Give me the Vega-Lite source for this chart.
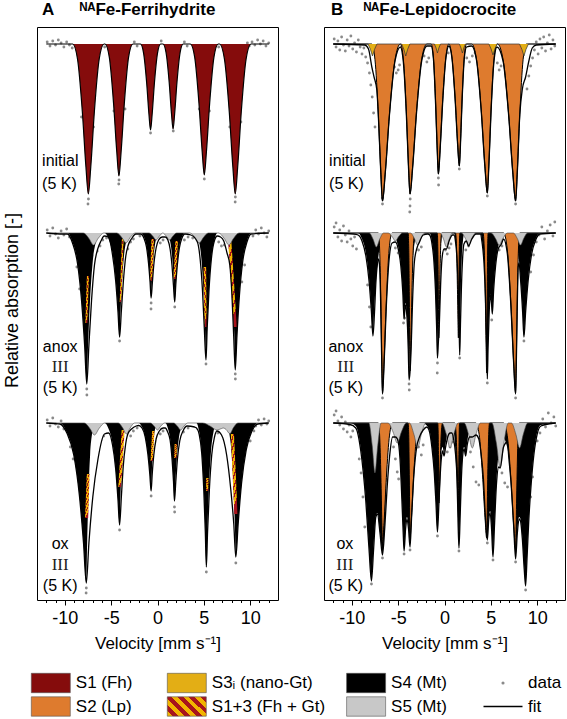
{
"$schema":"https://vega.github.io/schema/vega-lite/v6.json",
"padding":{"left":2,"top":0,"right":0,"bottom":0},
"background":"white",
"config":{"font":"Liberation Sans","view":{"stroke":"black","strokeWidth":1},"title":{"color":"black"}},
"datasets":{
"A":[
{"k":"S1","s":1,"x":-12,"y":-17,"b":-17},{"k":"S1","s":1,"x":-9.15,"y":-17,"b":-17},{"k":"S1","s":1,"x":-8.63,"y":-32,"b":-17},{"k":"S1","s":1,"x":-8.11,"y":-84.5,"b":-17},{"k":"S1","s":1,"x":-7.72,"y":-140,"b":-17},{"k":"S1","s":1,"x":-7.46,"y":-167,"b":-17},{"k":"S1","s":1,"x":-7.2,"y":-140,"b":-17},{"k":"S1","s":1,"x":-6.81,"y":-84.5,"b":-17},{"k":"S1","s":1,"x":-6.29,"y":-32,"b":-17},{"k":"S1","s":1,"x":-5.77,"y":-17,"b":-17},
{"k":"S1","s":1,"x":-5.67,"y":-17,"b":-17},{"k":"S1","s":1,"x":-5.2,"y":-30.2,"b":-17},{"k":"S1","s":1,"x":-4.74,"y":-76.4,"b":-17},{"k":"S1","s":1,"x":-4.39,"y":-125.2,"b":-17},{"k":"S1","s":1,"x":-4.16,"y":-149,"b":-17},{"k":"S1","s":1,"x":-3.93,"y":-125.2,"b":-17},{"k":"S1","s":1,"x":-3.58,"y":-76.4,"b":-17},{"k":"S1","s":1,"x":-3.12,"y":-30.2,"b":-17},{"k":"S1","s":1,"x":-2.65,"y":-17,"b":-17},
{"k":"S1","s":1,"x":-1.84,"y":-17,"b":-17},{"k":"S1","s":1,"x":-1.51,"y":-25.6,"b":-17},{"k":"S1","s":1,"x":-1.17,"y":-55.7,"b":-17},{"k":"S1","s":1,"x":-0.92,"y":-87.5,"b":-17},{"k":"S1","s":1,"x":-0.75,"y":-103,"b":-17},{"k":"S1","s":1,"x":-0.58,"y":-87.5,"b":-17},{"k":"S1","s":1,"x":-0.33,"y":-55.7,"b":-17},{"k":"S1","s":1,"x":0.01,"y":-25.6,"b":-17},{"k":"S1","s":1,"x":0.34,"y":-17,"b":-17},
{"k":"S1","s":1,"x":0.59,"y":-17,"b":-17},{"k":"S1","s":1,"x":0.92,"y":-25.5,"b":-17},{"k":"S1","s":1,"x":1.26,"y":-55.3,"b":-17},{"k":"S1","s":1,"x":1.51,"y":-86.7,"b":-17},{"k":"S1","s":1,"x":1.68,"y":-102,"b":-17},{"k":"S1","s":1,"x":1.85,"y":-86.7,"b":-17},{"k":"S1","s":1,"x":2.1,"y":-55.3,"b":-17},{"k":"S1","s":1,"x":2.44,"y":-25.5,"b":-17},{"k":"S1","s":1,"x":2.77,"y":-17,"b":-17},
{"k":"S1","s":1,"x":3.54,"y":-17,"b":-17},{"k":"S1","s":1,"x":4.01,"y":-30.1,"b":-17},{"k":"S1","s":1,"x":4.47,"y":-76,"b":-17},{"k":"S1","s":1,"x":4.82,"y":-124.4,"b":-17},{"k":"S1","s":1,"x":5.05,"y":-148,"b":-17},{"k":"S1","s":1,"x":5.28,"y":-124.4,"b":-17},{"k":"S1","s":1,"x":5.63,"y":-76,"b":-17},{"k":"S1","s":1,"x":6.09,"y":-30.1,"b":-17},{"k":"S1","s":1,"x":6.56,"y":-17,"b":-17},
{"k":"S1","s":1,"x":6.7,"y":-17,"b":-17},{"k":"S1","s":1,"x":7.22,"y":-32,"b":-17},{"k":"S1","s":1,"x":7.74,"y":-84.5,"b":-17},{"k":"S1","s":1,"x":8.13,"y":-140,"b":-17},{"k":"S1","s":1,"x":8.39,"y":-167,"b":-17},{"k":"S1","s":1,"x":8.65,"y":-140,"b":-17},{"k":"S1","s":1,"x":9.04,"y":-84.5,"b":-17},{"k":"S1","s":1,"x":9.56,"y":-32,"b":-17},{"k":"S1","s":1,"x":10.08,"y":-17,"b":-17},{"k":"S1","s":1,"x":12,"y":-17,"b":-17},

{"k":"S4","s":2,"x":-12,"y":-206,"b":-206},
{"k":"S4","s":2,"x":-9.72,"y":-206,"b":-206},{"k":"S4","s":2,"x":-9.17,"y":-215,"b":-206},{"k":"S4","s":2,"x":-8.62,"y":-236,"b":-206},{"k":"S4","s":2,"x":-8.18,"y":-273.5,"b":-206},{"k":"S4","s":2,"x":-7.85,"y":-318.5,"b":-206},{"k":"S4","s":2,"x":-7.63,"y":-356,"b":-206},{"k":"S4","s":2,"x":-7.49,"y":-318.5,"b":-206},{"k":"S4","s":2,"x":-7.28,"y":-273.5,"b":-206},{"k":"S4","s":2,"x":-7.0,"y":-236,"b":-206},{"k":"S4","s":2,"x":-6.65,"y":-215,"b":-206},{"k":"S4","s":2,"x":-6.3,"y":-206,"b":-206},
{"k":"S4","s":2,"x":-5.69,"y":-206,"b":-206},{"k":"S4","s":2,"x":-5.27,"y":-212.2,"b":-206},{"k":"S4","s":2,"x":-4.85,"y":-226.6,"b":-206},{"k":"S4","s":2,"x":-4.51,"y":-252.4,"b":-206},{"k":"S4","s":2,"x":-4.26,"y":-283.3,"b":-206},{"k":"S4","s":2,"x":-4.09,"y":-309,"b":-206},{"k":"S4","s":2,"x":-3.98,"y":-283.3,"b":-206},{"k":"S4","s":2,"x":-3.81,"y":-252.4,"b":-206},{"k":"S4","s":2,"x":-3.59,"y":-226.6,"b":-206},{"k":"S4","s":2,"x":-3.31,"y":-212.2,"b":-206},{"k":"S4","s":2,"x":-3.03,"y":-206,"b":-206},
{"k":"S4","s":2,"x":-1.75,"y":-206,"b":-206},{"k":"S4","s":2,"x":-1.47,"y":-209.8,"b":-206},{"k":"S4","s":2,"x":-1.19,"y":-218.8,"b":-206},{"k":"S4","s":2,"x":-0.97,"y":-234.8,"b":-206},{"k":"S4","s":2,"x":-0.8,"y":-254,"b":-206},{"k":"S4","s":2,"x":-0.69,"y":-270,"b":-206},{"k":"S4","s":2,"x":-0.6,"y":-254,"b":-206},{"k":"S4","s":2,"x":-0.47,"y":-234.8,"b":-206},{"k":"S4","s":2,"x":-0.29,"y":-218.8,"b":-206},{"k":"S4","s":2,"x":-0.07,"y":-209.8,"b":-206},{"k":"S4","s":2,"x":0.15,"y":-206,"b":-206},
{"k":"S4","s":2,"x":1.02,"y":-206,"b":-206},{"k":"S4","s":2,"x":1.24,"y":-210.1,"b":-206},{"k":"S4","s":2,"x":1.46,"y":-219.6,"b":-206},{"k":"S4","s":2,"x":1.64,"y":-236.6,"b":-206},{"k":"S4","s":2,"x":1.77,"y":-257,"b":-206},{"k":"S4","s":2,"x":1.86,"y":-274,"b":-206},{"k":"S4","s":2,"x":1.97,"y":-257,"b":-206},{"k":"S4","s":2,"x":2.14,"y":-236.6,"b":-206},{"k":"S4","s":2,"x":2.36,"y":-219.6,"b":-206},{"k":"S4","s":2,"x":2.64,"y":-210.1,"b":-206},{"k":"S4","s":2,"x":2.92,"y":-206,"b":-206},
{"k":"S4","s":2,"x":4.17,"y":-206,"b":-206},{"k":"S4","s":2,"x":4.45,"y":-213.6,"b":-206},{"k":"S4","s":2,"x":4.73,"y":-231.2,"b":-206},{"k":"S4","s":2,"x":4.95,"y":-262.7,"b":-206},{"k":"S4","s":2,"x":5.12,"y":-300.5,"b":-206},{"k":"S4","s":2,"x":5.23,"y":-332,"b":-206},{"k":"S4","s":2,"x":5.36,"y":-300.5,"b":-206},{"k":"S4","s":2,"x":5.55,"y":-262.7,"b":-206},{"k":"S4","s":2,"x":5.81,"y":-231.2,"b":-206},{"k":"S4","s":2,"x":6.13,"y":-213.6,"b":-206},{"k":"S4","s":2,"x":6.45,"y":-206,"b":-206},
{"k":"S4","s":2,"x":7.4,"y":-206,"b":-206},{"k":"S4","s":2,"x":7.66,"y":-214.2,"b":-206},{"k":"S4","s":2,"x":7.92,"y":-233.2,"b":-206},{"k":"S4","s":2,"x":8.13,"y":-267.2,"b":-206},{"k":"S4","s":2,"x":8.29,"y":-308,"b":-206},{"k":"S4","s":2,"x":8.39,"y":-342,"b":-206},{"k":"S4","s":2,"x":8.57,"y":-308,"b":-206},{"k":"S4","s":2,"x":8.84,"y":-267.2,"b":-206},{"k":"S4","s":2,"x":9.2,"y":-233.2,"b":-206},{"k":"S4","s":2,"x":9.65,"y":-214.2,"b":-206},{"k":"S4","s":2,"x":10.1,"y":-206,"b":-206},
{"k":"S4","s":2,"x":12,"y":-206,"b":-206},

{"k":"S4","s":3,"x":-12,"y":-396,"b":-396},
{"k":"S4","s":3,"x":-10.53,"y":-396,"b":-396},{"k":"S4","s":3,"x":-9.78,"y":-405.6,"b":-396},{"k":"S4","s":3,"x":-9.03,"y":-428,"b":-396},{"k":"S4","s":3,"x":-8.43,"y":-468,"b":-396},{"k":"S4","s":3,"x":-7.98,"y":-516,"b":-396},{"k":"S4","s":3,"x":-7.68,"y":-556,"b":-396},{"k":"S4","s":3,"x":-7.59,"y":-516,"b":-396},{"k":"S4","s":3,"x":-7.45,"y":-468,"b":-396},{"k":"S4","s":3,"x":-7.27,"y":-428,"b":-396},{"k":"S4","s":3,"x":-7.04,"y":-405.6,"b":-396},{"k":"S4","s":3,"x":-6.81,"y":-396,"b":-396},
{"k":"S4","s":3,"x":-5.69,"y":-396,"b":-396},{"k":"S4","s":3,"x":-5.27,"y":-402.1,"b":-396},{"k":"S4","s":3,"x":-4.85,"y":-416.4,"b":-396},{"k":"S4","s":3,"x":-4.51,"y":-441.9,"b":-396},{"k":"S4","s":3,"x":-4.26,"y":-472.5,"b":-396},{"k":"S4","s":3,"x":-4.09,"y":-498,"b":-396},{"k":"S4","s":3,"x":-4.01,"y":-472.5,"b":-396},{"k":"S4","s":3,"x":-3.89,"y":-441.9,"b":-396},{"k":"S4","s":3,"x":-3.73,"y":-416.4,"b":-396},{"k":"S4","s":3,"x":-3.53,"y":-402.1,"b":-396},{"k":"S4","s":3,"x":-3.33,"y":-396,"b":-396},
{"k":"S4","s":3,"x":-2.02,"y":-396,"b":-396},{"k":"S4","s":3,"x":-1.67,"y":-400.1,"b":-396},{"k":"S4","s":3,"x":-1.32,"y":-409.6,"b":-396},{"k":"S4","s":3,"x":-1.04,"y":-426.6,"b":-396},{"k":"S4","s":3,"x":-0.83,"y":-447,"b":-396},{"k":"S4","s":3,"x":-0.69,"y":-464,"b":-396},{"k":"S4","s":3,"x":-0.62,"y":-447,"b":-396},{"k":"S4","s":3,"x":-0.52,"y":-426.6,"b":-396},{"k":"S4","s":3,"x":-0.38,"y":-409.6,"b":-396},{"k":"S4","s":3,"x":-0.21,"y":-400.1,"b":-396},{"k":"S4","s":3,"x":-0.04,"y":-396,"b":-396},
{"k":"S4","s":3,"x":0.84,"y":-396,"b":-396},{"k":"S4","s":3,"x":1.1,"y":-400.7,"b":-396},{"k":"S4","s":3,"x":1.36,"y":-411.6,"b":-396},{"k":"S4","s":3,"x":1.57,"y":-431.1,"b":-396},{"k":"S4","s":3,"x":1.73,"y":-454.5,"b":-396},{"k":"S4","s":3,"x":1.83,"y":-474,"b":-396},{"k":"S4","s":3,"x":1.93,"y":-454.5,"b":-396},{"k":"S4","s":3,"x":2.09,"y":-431.1,"b":-396},{"k":"S4","s":3,"x":2.3,"y":-411.6,"b":-396},{"k":"S4","s":3,"x":2.56,"y":-400.7,"b":-396},{"k":"S4","s":3,"x":2.82,"y":-396,"b":-396},
{"k":"S4","s":3,"x":4.21,"y":-396,"b":-396},{"k":"S4","s":3,"x":4.49,"y":-404.6,"b":-396},{"k":"S4","s":3,"x":4.77,"y":-424.8,"b":-396},{"k":"S4","s":3,"x":4.99,"y":-460.8,"b":-396},{"k":"S4","s":3,"x":5.16,"y":-504,"b":-396},{"k":"S4","s":3,"x":5.27,"y":-540,"b":-396},{"k":"S4","s":3,"x":5.38,"y":-504,"b":-396},{"k":"S4","s":3,"x":5.55,"y":-460.8,"b":-396},{"k":"S4","s":3,"x":5.77,"y":-424.8,"b":-396},{"k":"S4","s":3,"x":6.05,"y":-404.6,"b":-396},{"k":"S4","s":3,"x":6.33,"y":-396,"b":-396},
{"k":"S4","s":3,"x":7.42,"y":-396,"b":-396},{"k":"S4","s":3,"x":7.69,"y":-404,"b":-396},{"k":"S4","s":3,"x":7.96,"y":-422.8,"b":-396},{"k":"S4","s":3,"x":8.18,"y":-456.3,"b":-396},{"k":"S4","s":3,"x":8.34,"y":-496.5,"b":-396},{"k":"S4","s":3,"x":8.45,"y":-530,"b":-396},{"k":"S4","s":3,"x":8.7,"y":-496.5,"b":-396},{"k":"S4","s":3,"x":9.07,"y":-456.3,"b":-396},{"k":"S4","s":3,"x":9.57,"y":-422.8,"b":-396},{"k":"S4","s":3,"x":10.19,"y":-404,"b":-396},{"k":"S4","s":3,"x":10.81,"y":-396,"b":-396},
{"k":"S4","s":3,"x":12,"y":-396,"b":-396},

{"k":"H","s":"2a","y":-249,"x":-7.62,"x2":-7.4},{"k":"H","s":"2a","y":-272,"x":-7.7,"x2":-7.48},{"k":"H","s":"2a","y":-296,"x":-7.78,"x2":-7.57},
{"k":"H","s":"2b","y":-212,"x":-3.84,"x2":-3.66},{"k":"H","s":"2b","y":-243,"x":-3.96,"x2":-3.77},{"k":"H","s":"2b","y":-275,"x":-4.08,"x2":-3.9},
{"k":"H","s":"2c","y":-212,"x":-0.65,"x2":-0.38},{"k":"H","s":"2c","y":-254,"x":-0.82,"x2":-0.55},
{"k":"H","s":"2d","y":-214,"x":1.93,"x2":2.2},{"k":"H","s":"2d","y":-252,"x":1.72,"x2":2.0},
{"k":"H","s":"2e","y":-240,"x":4.98,"x2":5.25},{"k":"H","s":"2e","y":-300,"x":5.06,"x2":5.3},
{"k":"H","s":"2f","y":-212,"x":7.6,"x2":7.95},{"k":"H","s":"2f","y":-256,"x":7.92,"x2":8.26},{"k":"H","s":"2f","y":-300,"x":8.22,"x2":8.55},
{"k":"H","s":"3a","y":-447,"x":-7.63,"x2":-7.33},{"k":"H","s":"3a","y":-469,"x":-7.72,"x2":-7.4},{"k":"H","s":"3a","y":-491,"x":-7.82,"x2":-7.48},
{"k":"H","s":"3b","y":-403,"x":-3.87,"x2":-3.55},{"k":"H","s":"3b","y":-432,"x":-4.05,"x2":-3.73},{"k":"H","s":"3b","y":-460,"x":-4.23,"x2":-3.92},
{"k":"H","s":"3c","y":-404,"x":-0.58,"x2":-0.33},{"k":"H","s":"3c","y":-434,"x":-0.75,"x2":-0.5},
{"k":"H","s":"3d","y":-417,"x":1.85,"x2":2.1},{"k":"H","s":"3d","y":-431,"x":1.8,"x2":2.05},
{"k":"H","s":"3e","y":-451,"x":5.25,"x2":5.5},{"k":"H","s":"3e","y":-464,"x":5.25,"x2":5.48},
{"k":"H","s":"3f","y":-407,"x":7.91,"x2":8.25},{"k":"H","s":"3f","y":-447,"x":8.1,"x2":8.45},{"k":"H","s":"3f","y":-487,"x":8.28,"x2":8.62},

{"k":"S5","s":2,"x":-12,"y":-206,"b":-206},{"k":"S5","s":2,"x":-8.0,"y":-206,"b":-206},{"k":"S5","s":2,"x":-7.4,"y":-211.4,"b":-206},{"k":"S5","s":2,"x":-6.9,"y":-218,"b":-206},{"k":"S5","s":2,"x":-6.4,"y":-211.4,"b":-206},{"k":"S5","s":2,"x":-5.8,"y":-206,"b":-206},{"k":"S5","s":2,"x":-4.39,"y":-206,"b":-206},{"k":"S5","s":2,"x":-3.85,"y":-210.5,"b":-206},{"k":"S5","s":2,"x":-3.4,"y":-216,"b":-206},{"k":"S5","s":2,"x":-2.95,"y":-210.5,"b":-206},{"k":"S5","s":2,"x":-2.41,"y":-206,"b":-206},{"k":"S5","s":2,"x":-0.92,"y":-206,"b":-206},{"k":"S5","s":2,"x":-0.5,"y":-209.2,"b":-206},{"k":"S5","s":2,"x":-0.15,"y":-213,"b":-206},{"k":"S5","s":2,"x":0.2,"y":-209.2,"b":-206},{"k":"S5","s":2,"x":0.57,"y":-206,"b":-206},{"k":"S5","s":2,"x":0.95,"y":-209.2,"b":-206},{"k":"S5","s":2,"x":1.3,"y":-213,"b":-206},{"k":"S5","s":2,"x":1.65,"y":-209.2,"b":-206},{"k":"S5","s":2,"x":2.07,"y":-206,"b":-206},{"k":"S5","s":2,"x":3.51,"y":-206,"b":-206},{"k":"S5","s":2,"x":4.05,"y":-210.5,"b":-206},{"k":"S5","s":2,"x":4.5,"y":-216,"b":-206},{"k":"S5","s":2,"x":4.95,"y":-210.5,"b":-206},{"k":"S5","s":2,"x":5.49,"y":-206,"b":-206},{"k":"S5","s":2,"x":6.6,"y":-206,"b":-206},{"k":"S5","s":2,"x":7.2,"y":-211.4,"b":-206},{"k":"S5","s":2,"x":7.7,"y":-218,"b":-206},{"k":"S5","s":2,"x":8.2,"y":-211.4,"b":-206},{"k":"S5","s":2,"x":8.8,"y":-206,"b":-206},{"k":"S5","s":2,"x":12,"y":-206,"b":-206},

{"k":"S5","s":3,"x":-12,"y":-396,"b":-396},{"k":"S5","s":3,"x":-7.9,"y":-396,"b":-396},{"k":"S5","s":3,"x":-7.3,"y":-401.4,"b":-396},{"k":"S5","s":3,"x":-6.8,"y":-408,"b":-396},{"k":"S5","s":3,"x":-6.3,"y":-401.4,"b":-396},{"k":"S5","s":3,"x":-5.7,"y":-396,"b":-396},{"k":"S5","s":3,"x":-4.23,"y":-396,"b":-396},{"k":"S5","s":3,"x":-3.75,"y":-401,"b":-396},{"k":"S5","s":3,"x":-3.35,"y":-407,"b":-396},{"k":"S5","s":3,"x":-2.95,"y":-401,"b":-396},{"k":"S5","s":3,"x":-2.47,"y":-396,"b":-396},{"k":"S5","s":3,"x":-0.77,"y":-396,"b":-396},{"k":"S5","s":3,"x":-0.35,"y":-399.2,"b":-396},{"k":"S5","s":3,"x":0,"y":-403,"b":-396},{"k":"S5","s":3,"x":0.35,"y":-399.2,"b":-396},{"k":"S5","s":3,"x":0.77,"y":-396,"b":-396},{"k":"S5","s":3,"x":1.73,"y":-396,"b":-396},{"k":"S5","s":3,"x":2.15,"y":-399.2,"b":-396},{"k":"S5","s":3,"x":2.5,"y":-403,"b":-396},{"k":"S5","s":3,"x":2.85,"y":-399.2,"b":-396},{"k":"S5","s":3,"x":3.27,"y":-396,"b":-396},{"k":"S5","s":3,"x":4.86,"y":-396,"b":-396},{"k":"S5","s":3,"x":5.7,"y":-399.2,"b":-396},{"k":"S5","s":3,"x":6.4,"y":-403,"b":-396},{"k":"S5","s":3,"x":6.92,"y":-401.5,"b":-396},{"k":"S5","s":3,"x":7.1,"y":-401,"b":-396},{"k":"S5","s":3,"x":7.4,"y":-402.5,"b":-396},{"k":"S5","s":3,"x":7.8,"y":-406.7,"b":-396},{"k":"S5","s":3,"x":8.2,"y":-400.5,"b":-396},{"k":"S5","s":3,"x":8.68,"y":-396,"b":-396},{"k":"S5","s":3,"x":12,"y":-396,"b":-396},

{"k":"fit","s":2,"x":-12,"y":-206,"b":-206},{"k":"fit","s":2,"x":-10.2,"y":-207,"b":-206},{"k":"fit","s":2,"x":-9.72,"y":-207,"b":-206},{"k":"fit","s":2,"x":-9.17,"y":-216,"b":-206},{"k":"fit","s":2,"x":-8.62,"y":-237,"b":-206},{"k":"fit","s":2,"x":-8.18,"y":-275,"b":-206},{"k":"fit","s":2,"x":-7.85,"y":-320,"b":-206},{"k":"fit","s":2,"x":-7.63,"y":-357,"b":-206},{"k":"fit","s":2,"x":-7.4,"y":-318,"b":-206},{"k":"fit","s":2,"x":-7.12,"y":-274,"b":-206},{"k":"fit","s":2,"x":-6.8,"y":-238,"b":-206},{"k":"fit","s":2,"x":-6.45,"y":-222,"b":-206},{"k":"fit","s":2,"x":-6.1,"y":-214,"b":-206},{"k":"fit","s":2,"x":-5.75,"y":-209,"b":-206},{"k":"fit","s":2,"x":-5.3,"y":-210,"b":-206},{"k":"fit","s":2,"x":-4.85,"y":-228,"b":-206},{"k":"fit","s":2,"x":-4.51,"y":-254,"b":-206},{"k":"fit","s":2,"x":-4.26,"y":-285,"b":-206},{"k":"fit","s":2,"x":-4.09,"y":-310,"b":-206},{"k":"fit","s":2,"x":-3.9,"y":-284,"b":-206},{"k":"fit","s":2,"x":-3.68,"y":-254,"b":-206},{"k":"fit","s":2,"x":-3.42,"y":-229,"b":-206},{"k":"fit","s":2,"x":-3.15,"y":-218,"b":-206},{"k":"fit","s":2,"x":-2.75,"y":-211,"b":-206},{"k":"fit","s":2,"x":-2.35,"y":-207,"b":-206},{"k":"fit","s":2,"x":-1.8,"y":-207,"b":-206},{"k":"fit","s":2,"x":-1.47,"y":-211,"b":-206},{"k":"fit","s":2,"x":-1.19,"y":-220,"b":-206},{"k":"fit","s":2,"x":-0.97,"y":-236,"b":-206},{"k":"fit","s":2,"x":-0.8,"y":-255,"b":-206},{"k":"fit","s":2,"x":-0.69,"y":-271,"b":-206},{"k":"fit","s":2,"x":-0.55,"y":-255,"b":-206},{"k":"fit","s":2,"x":-0.38,"y":-236,"b":-206},{"k":"fit","s":2,"x":-0.15,"y":-221,"b":-206},{"k":"fit","s":2,"x":0.12,"y":-213,"b":-206},{"k":"fit","s":2,"x":0.5,"y":-210,"b":-206},{"k":"fit","s":2,"x":0.85,"y":-210,"b":-206},{"k":"fit","s":2,"x":1.12,"y":-213,"b":-206},{"k":"fit","s":2,"x":1.36,"y":-222,"b":-206},{"k":"fit","s":2,"x":1.56,"y":-238,"b":-206},{"k":"fit","s":2,"x":1.72,"y":-258,"b":-206},{"k":"fit","s":2,"x":1.86,"y":-275,"b":-206},{"k":"fit","s":2,"x":1.97,"y":-258,"b":-206},{"k":"fit","s":2,"x":2.14,"y":-238,"b":-206},{"k":"fit","s":2,"x":2.36,"y":-221,"b":-206},{"k":"fit","s":2,"x":2.64,"y":-211,"b":-206},{"k":"fit","s":2,"x":2.95,"y":-207,"b":-206},{"k":"fit","s":2,"x":3.6,"y":-208,"b":-206},{"k":"fit","s":2,"x":4.3,"y":-215,"b":-206},{"k":"fit","s":2,"x":4.6,"y":-232,"b":-206},{"k":"fit","s":2,"x":4.85,"y":-263,"b":-206},{"k":"fit","s":2,"x":5.05,"y":-301,"b":-206},{"k":"fit","s":2,"x":5.23,"y":-333,"b":-206},{"k":"fit","s":2,"x":5.36,"y":-301,"b":-206},{"k":"fit","s":2,"x":5.55,"y":-264,"b":-206},{"k":"fit","s":2,"x":5.81,"y":-232,"b":-206},{"k":"fit","s":2,"x":6.13,"y":-214,"b":-206},{"k":"fit","s":2,"x":6.45,"y":-209,"b":-206},{"k":"fit","s":2,"x":6.8,"y":-210,"b":-206},{"k":"fit","s":2,"x":7.15,"y":-214,"b":-206},{"k":"fit","s":2,"x":7.5,"y":-226,"b":-206},{"k":"fit","s":2,"x":7.8,"y":-238,"b":-206},{"k":"fit","s":2,"x":8.03,"y":-268,"b":-206},{"k":"fit","s":2,"x":8.22,"y":-309,"b":-206},{"k":"fit","s":2,"x":8.39,"y":-343,"b":-206},{"k":"fit","s":2,"x":8.57,"y":-309,"b":-206},{"k":"fit","s":2,"x":8.84,"y":-268,"b":-206},{"k":"fit","s":2,"x":9.2,"y":-234,"b":-206},{"k":"fit","s":2,"x":9.65,"y":-215,"b":-206},{"k":"fit","s":2,"x":10.1,"y":-207,"b":-206},{"k":"fit","s":2,"x":12,"y":-206,"b":-206},

{"k":"fit","s":3,"x":-12,"y":-396,"b":-396},{"k":"fit","s":3,"x":-11.2,"y":-396.5,"b":-396},{"k":"fit","s":3,"x":-10.53,"y":-397,"b":-396},{"k":"fit","s":3,"x":-9.78,"y":-406,"b":-396},{"k":"fit","s":3,"x":-9.03,"y":-428,"b":-396},{"k":"fit","s":3,"x":-8.43,"y":-468,"b":-396},{"k":"fit","s":3,"x":-7.98,"y":-516,"b":-396},{"k":"fit","s":3,"x":-7.68,"y":-556,"b":-396},{"k":"fit","s":3,"x":-7.4,"y":-516,"b":-396},{"k":"fit","s":3,"x":-6.98,"y":-470,"b":-396},{"k":"fit","s":3,"x":-6.42,"y":-432,"b":-396},{"k":"fit","s":3,"x":-5.72,"y":-407,"b":-396},{"k":"fit","s":3,"x":-5.27,"y":-406,"b":-396},{"k":"fit","s":3,"x":-4.85,"y":-418,"b":-396},{"k":"fit","s":3,"x":-4.51,"y":-442,"b":-396},{"k":"fit","s":3,"x":-4.26,"y":-473,"b":-396},{"k":"fit","s":3,"x":-4.09,"y":-498,"b":-396},{"k":"fit","s":3,"x":-3.9,"y":-470,"b":-396},{"k":"fit","s":3,"x":-3.7,"y":-440,"b":-396},{"k":"fit","s":3,"x":-3.45,"y":-418,"b":-396},{"k":"fit","s":3,"x":-3.2,"y":-407,"b":-396},{"k":"fit","s":3,"x":-2.8,"y":-402,"b":-396},{"k":"fit","s":3,"x":-2.3,"y":-399,"b":-396},{"k":"fit","s":3,"x":-2.02,"y":-398.5,"b":-396},{"k":"fit","s":3,"x":-1.67,"y":-401,"b":-396},{"k":"fit","s":3,"x":-1.32,"y":-410,"b":-396},{"k":"fit","s":3,"x":-1.04,"y":-427,"b":-396},{"k":"fit","s":3,"x":-0.83,"y":-447,"b":-396},{"k":"fit","s":3,"x":-0.69,"y":-464,"b":-396},{"k":"fit","s":3,"x":-0.57,"y":-447,"b":-396},{"k":"fit","s":3,"x":-0.4,"y":-428,"b":-396},{"k":"fit","s":3,"x":-0.15,"y":-412,"b":-396},{"k":"fit","s":3,"x":0.2,"y":-404,"b":-396},{"k":"fit","s":3,"x":0.6,"y":-401,"b":-396},{"k":"fit","s":3,"x":0.84,"y":-401,"b":-396},{"k":"fit","s":3,"x":1.1,"y":-405,"b":-396},{"k":"fit","s":3,"x":1.36,"y":-413,"b":-396},{"k":"fit","s":3,"x":1.57,"y":-432,"b":-396},{"k":"fit","s":3,"x":1.73,"y":-455,"b":-396},{"k":"fit","s":3,"x":1.83,"y":-474,"b":-396},{"k":"fit","s":3,"x":1.97,"y":-455,"b":-396},{"k":"fit","s":3,"x":2.15,"y":-432,"b":-396},{"k":"fit","s":3,"x":2.4,"y":-414,"b":-396},{"k":"fit","s":3,"x":2.75,"y":-404,"b":-396},{"k":"fit","s":3,"x":3.2,"y":-399,"b":-396},{"k":"fit","s":3,"x":4.0,"y":-400,"b":-396},{"k":"fit","s":3,"x":4.21,"y":-401,"b":-396},{"k":"fit","s":3,"x":4.49,"y":-407,"b":-396},{"k":"fit","s":3,"x":4.77,"y":-426,"b":-396},{"k":"fit","s":3,"x":4.99,"y":-462,"b":-396},{"k":"fit","s":3,"x":5.16,"y":-505,"b":-396},{"k":"fit","s":3,"x":5.27,"y":-540,"b":-396},{"k":"fit","s":3,"x":5.4,"y":-505,"b":-396},{"k":"fit","s":3,"x":5.6,"y":-462,"b":-396},{"k":"fit","s":3,"x":5.85,"y":-428,"b":-396},{"k":"fit","s":3,"x":6.15,"y":-410,"b":-396},{"k":"fit","s":3,"x":6.4,"y":-404,"b":-396},{"k":"fit","s":3,"x":6.91,"y":-408,"b":-396},{"k":"fit","s":3,"x":7.46,"y":-428,"b":-396},{"k":"fit","s":3,"x":7.9,"y":-462,"b":-396},{"k":"fit","s":3,"x":8.23,"y":-497,"b":-396},{"k":"fit","s":3,"x":8.45,"y":-530,"b":-396},{"k":"fit","s":3,"x":8.7,"y":-497,"b":-396},{"k":"fit","s":3,"x":9.07,"y":-456,"b":-396},{"k":"fit","s":3,"x":9.57,"y":-423,"b":-396},{"k":"fit","s":3,"x":10.19,"y":-404,"b":-396},{"k":"fit","s":3,"x":10.81,"y":-397,"b":-396},{"k":"fit","s":3,"x":12,"y":-396,"b":-396},

{"k":"pt","x":-11.9,"y":-15},{"k":"pt","x":-11.6,"y":-19},{"k":"pt","x":-11.3,"y":-14},{"k":"pt","x":-11.0,"y":-18},{"k":"pt","x":-10.7,"y":-13},{"k":"pt","x":-10.4,"y":-16},{"k":"pt","x":-10.1,"y":-20},{"k":"pt","x":-9.8,"y":-15},{"k":"pt","x":-9.5,"y":-18},{"k":"pt","x":-9.2,"y":-21},{"k":"pt","x":-5.7,"y":-20},{"k":"pt","x":-2.5,"y":-15},{"k":"pt","x":-2.2,"y":-19},{"k":"pt","x":0.4,"y":-14},{"k":"pt","x":2.9,"y":-15},{"k":"pt","x":3.2,"y":-19},{"k":"pt","x":6.6,"y":-20},{"k":"pt","x":9.7,"y":-16},{"k":"pt","x":9.9,"y":-19},{"k":"pt","x":10.2,"y":-15},{"k":"pt","x":10.5,"y":-18},{"k":"pt","x":10.8,"y":-13},{"k":"pt","x":11.1,"y":-17},{"k":"pt","x":11.4,"y":-14},{"k":"pt","x":11.7,"y":-19},{"k":"pt","x":12.0,"y":-16},{"k":"pt","x":-7.45,"y":-172},{"k":"pt","x":-7.5,"y":-177},{"k":"pt","x":-4.15,"y":-153},{"k":"pt","x":-4.18,"y":-157},{"k":"pt","x":-0.75,"y":-106},{"k":"pt","x":1.7,"y":-104},{"k":"pt","x":5.05,"y":-152},{"k":"pt","x":8.4,"y":-170},{"k":"pt","x":8.38,"y":-175},{"k":"pt","x":-8.2,"y":-90},{"k":"pt","x":-6.9,"y":-100},{"k":"pt","x":-4.7,"y":-84},{"k":"pt","x":-3.5,"y":-82},{"k":"pt","x":4.5,"y":-82},{"k":"pt","x":5.6,"y":-84},{"k":"pt","x":7.8,"y":-100},{"k":"pt","x":9.0,"y":-95},
{"k":"pt","x":-11.9,"y":-203},{"k":"pt","x":-11.6,"y":-209},{"k":"pt","x":-11.3,"y":-201},{"k":"pt","x":-11.0,"y":-207},{"k":"pt","x":-10.7,"y":-211},{"k":"pt","x":-10.4,"y":-204},{"k":"pt","x":-10.1,"y":-208},{"k":"pt","x":-9.8,"y":-202},{"k":"pt","x":-9.5,"y":-210},{"k":"pt","x":10.3,"y":-209},{"k":"pt","x":10.6,"y":-203},{"k":"pt","x":10.9,"y":-207},{"k":"pt","x":11.2,"y":-201},{"k":"pt","x":11.5,"y":-206},{"k":"pt","x":11.8,"y":-210},{"k":"pt","x":12.0,"y":-204},{"k":"pt","x":-6.5,"y":-224},{"k":"pt","x":-6.2,"y":-219},{"k":"pt","x":-5.9,"y":-213},{"k":"pt","x":-5.5,"y":-211},{"k":"pt","x":-3.2,"y":-222},{"k":"pt","x":-2.9,"y":-215},{"k":"pt","x":-2.6,"y":-212},{"k":"pt","x":-1.9,"y":-209},{"k":"pt","x":0.3,"y":-216},{"k":"pt","x":0.6,"y":-213},{"k":"pt","x":2.9,"y":-213},{"k":"pt","x":3.3,"y":-210},{"k":"pt","x":3.8,"y":-211},{"k":"pt","x":6.6,"y":-215},{"k":"pt","x":6.9,"y":-219},{"k":"pt","x":7.2,"y":-218},{"k":"pt","x":-7.63,"y":-362},{"k":"pt","x":-7.62,"y":-368},{"k":"pt","x":-4.09,"y":-314},{"k":"pt","x":-0.69,"y":-276},{"k":"pt","x":-0.7,"y":-282},{"k":"pt","x":1.86,"y":-280},{"k":"pt","x":5.23,"y":-337},{"k":"pt","x":8.39,"y":-347},{"k":"pt","x":8.4,"y":-352},{"k":"pt","x":-8.7,"y":-240},{"k":"pt","x":-8.4,"y":-262},{"k":"pt","x":9.4,"y":-238},{"k":"pt","x":9.1,"y":-255},
{"k":"pt","x":-11.9,"y":-393},{"k":"pt","x":-11.6,"y":-399},{"k":"pt","x":-11.3,"y":-391},{"k":"pt","x":-11.0,"y":-397},{"k":"pt","x":-10.7,"y":-400},{"k":"pt","x":-10.4,"y":-394},{"k":"pt","x":-10.1,"y":-402},{"k":"pt","x":10.6,"y":-399},{"k":"pt","x":10.9,"y":-393},{"k":"pt","x":11.2,"y":-398},{"k":"pt","x":11.5,"y":-392},{"k":"pt","x":11.8,"y":-397},{"k":"pt","x":12.0,"y":-394},{"k":"pt","x":-6.4,"y":-412},{"k":"pt","x":-6.1,"y":-413},{"k":"pt","x":-5.8,"y":-409},{"k":"pt","x":-2.9,"y":-409},{"k":"pt","x":-2.6,"y":-404},{"k":"pt","x":-2.2,"y":-401},{"k":"pt","x":0.3,"y":-407},{"k":"pt","x":0.6,"y":-404},{"k":"pt","x":2.8,"y":-405},{"k":"pt","x":3.3,"y":-401},{"k":"pt","x":6.5,"y":-406},{"k":"pt","x":7.0,"y":-408},{"k":"pt","x":-7.68,"y":-561},{"k":"pt","x":-7.7,"y":-566},{"k":"pt","x":-4.09,"y":-503},{"k":"pt","x":-0.69,"y":-469},{"k":"pt","x":1.83,"y":-480},{"k":"pt","x":1.85,"y":-485},{"k":"pt","x":5.27,"y":-545},{"k":"pt","x":8.45,"y":-536},{"k":"pt","x":-9.4,"y":-420},{"k":"pt","x":-9.1,"y":-432},{"k":"pt","x":10.0,"y":-414},{"k":"pt","x":10.4,"y":-404},

{"k":"labL","x":-12.45,"y":-134,"t":"initial"},{"k":"labL","x":-12.45,"y":-157,"t":"(5 K)"},
{"k":"labC","x":-10.5,"y":-320,"t":"anox"},{"k":"labC","x":-10.5,"y":-361,"t":"(5 K)"},{"k":"labS","x":-10.5,"y":-340,"t":"III"},
{"k":"labC","x":-10.5,"y":-517,"t":"ox"},{"k":"labC","x":-10.5,"y":-559,"t":"(5 K)"},{"k":"labS","x":-10.5,"y":-538,"t":"III"}
],
"B":[
{"k":"S2","s":1,"x":-12,"y":-17,"b":-17},{"k":"S2","s":1,"x":-7.86,"y":-17,"b":-17},{"k":"S2","s":1,"x":-7.5,"y":-32.7,"b":-17},{"k":"S2","s":1,"x":-7.14,"y":-87.7,"b":-17},{"k":"S2","s":1,"x":-6.87,"y":-145.7,"b":-17},{"k":"S2","s":1,"x":-6.69,"y":-174,"b":-17},{"k":"S2","s":1,"x":-6.39,"y":-145.7,"b":-17},{"k":"S2","s":1,"x":-5.94,"y":-87.7,"b":-17},{"k":"S2","s":1,"x":-5.34,"y":-32.7,"b":-17},{"k":"S2","s":1,"x":-4.76,"y":-17,"b":-17},{"k":"S2","s":1,"x":-4.44,"y":-32,"b":-17},{"k":"S2","s":1,"x":-4.12,"y":-84.5,"b":-17},{"k":"S2","s":1,"x":-3.88,"y":-140,"b":-17},{"k":"S2","s":1,"x":-3.72,"y":-167,"b":-17},{"k":"S2","s":1,"x":-3.44,"y":-140,"b":-17},{"k":"S2","s":1,"x":-3.02,"y":-84.5,"b":-17},{"k":"S2","s":1,"x":-2.46,"y":-32,"b":-17},{"k":"S2","s":1,"x":-1.9,"y":-17,"b":-17},{"k":"S2","s":1,"x":-1.44,"y":-17,"b":-17},{"k":"S2","s":1,"x":-1.2,"y":-30,"b":-17},{"k":"S2","s":1,"x":-0.96,"y":-75.5,"b":-17},{"k":"S2","s":1,"x":-0.78,"y":-123.6,"b":-17},{"k":"S2","s":1,"x":-0.66,"y":-147,"b":-17},{"k":"S2","s":1,"x":-0.48,"y":-123.6,"b":-17},{"k":"S2","s":1,"x":-0.21,"y":-75.5,"b":-17},{"k":"S2","s":1,"x":0.15,"y":-30,"b":-17},{"k":"S2","s":1,"x":0.47,"y":-17,"b":-17},{"k":"S2","s":1,"x":0.79,"y":-29.2,"b":-17},{"k":"S2","s":1,"x":1.15,"y":-71.9,"b":-17},{"k":"S2","s":1,"x":1.42,"y":-117,"b":-17},{"k":"S2","s":1,"x":1.6,"y":-139,"b":-17},{"k":"S2","s":1,"x":1.72,"y":-117,"b":-17},{"k":"S2","s":1,"x":1.9,"y":-71.9,"b":-17},{"k":"S2","s":1,"x":2.14,"y":-29.2,"b":-17},{"k":"S2","s":1,"x":2.38,"y":-17,"b":-17},{"k":"S2","s":1,"x":2.93,"y":-17,"b":-17},{"k":"S2","s":1,"x":3.45,"y":-31.9,"b":-17},{"k":"S2","s":1,"x":3.97,"y":-84,"b":-17},{"k":"S2","s":1,"x":4.36,"y":-139.2,"b":-17},{"k":"S2","s":1,"x":4.62,"y":-166,"b":-17},{"k":"S2","s":1,"x":4.78,"y":-139.2,"b":-17},{"k":"S2","s":1,"x":5.02,"y":-84,"b":-17},{"k":"S2","s":1,"x":5.34,"y":-31.9,"b":-17},{"k":"S2","s":1,"x":5.66,"y":-17,"b":-17},{"k":"S2","s":1,"x":5.72,"y":-17,"b":-17},{"k":"S2","s":1,"x":6.32,"y":-32.7,"b":-17},{"k":"S2","s":1,"x":6.92,"y":-87.7,"b":-17},{"k":"S2","s":1,"x":7.37,"y":-145.7,"b":-17},{"k":"S2","s":1,"x":7.67,"y":-174,"b":-17},{"k":"S2","s":1,"x":7.85,"y":-145.7,"b":-17},{"k":"S2","s":1,"x":8.12,"y":-87.7,"b":-17},{"k":"S2","s":1,"x":8.48,"y":-32.7,"b":-17},{"k":"S2","s":1,"x":8.84,"y":-17,"b":-17},{"k":"S2","s":1,"x":12,"y":-17,"b":-17},

{"k":"S3","s":1,"x":-12,"y":-17,"b":-17},{"k":"S3","s":1,"x":-8.25,"y":-17,"b":-17},{"k":"S3","s":1,"x":-7.99,"y":-22.4,"b":-17},{"k":"S3","s":1,"x":-7.77,"y":-29,"b":-17},{"k":"S3","s":1,"x":-7.55,"y":-22.4,"b":-17},{"k":"S3","s":1,"x":-7.29,"y":-17,"b":-17},{"k":"S3","s":1,"x":-4.62,"y":-17,"b":-17},{"k":"S3","s":1,"x":-4.38,"y":-22.4,"b":-17},{"k":"S3","s":1,"x":-4.18,"y":-29,"b":-17},{"k":"S3","s":1,"x":-3.98,"y":-22.4,"b":-17},{"k":"S3","s":1,"x":-3.74,"y":-17,"b":-17},{"k":"S3","s":1,"x":-1.09,"y":-17,"b":-17},{"k":"S3","s":1,"x":-0.91,"y":-21,"b":-17},{"k":"S3","s":1,"x":-0.76,"y":-26,"b":-17},{"k":"S3","s":1,"x":-0.61,"y":-21,"b":-17},{"k":"S3","s":1,"x":-0.43,"y":-17,"b":-17},{"k":"S3","s":1,"x":1.6,"y":-17,"b":-17},{"k":"S3","s":1,"x":1.78,"y":-21,"b":-17},{"k":"S3","s":1,"x":1.93,"y":-26,"b":-17},{"k":"S3","s":1,"x":2.08,"y":-21,"b":-17},{"k":"S3","s":1,"x":2.26,"y":-17,"b":-17},{"k":"S3","s":1,"x":4.79,"y":-17,"b":-17},{"k":"S3","s":1,"x":5.03,"y":-22,"b":-17},{"k":"S3","s":1,"x":5.23,"y":-28,"b":-17},{"k":"S3","s":1,"x":5.43,"y":-22,"b":-17},{"k":"S3","s":1,"x":5.67,"y":-17,"b":-17},{"k":"S3","s":1,"x":8.09,"y":-17,"b":-17},{"k":"S3","s":1,"x":8.35,"y":-22.4,"b":-17},{"k":"S3","s":1,"x":8.57,"y":-29,"b":-17},{"k":"S3","s":1,"x":8.79,"y":-22.4,"b":-17},{"k":"S3","s":1,"x":9.05,"y":-17,"b":-17},{"k":"S3","s":1,"x":12,"y":-17,"b":-17},

{"k":"fit","s":1,"x":-12,"y":-17,"b":-17},{"k":"fit","s":1,"x":-8.6,"y":-18,"b":-17},{"k":"fit","s":1,"x":-8.2,"y":-22,"b":-17},{"k":"fit","s":1,"x":-7.84,"y":-40,"b":-17},{"k":"fit","s":1,"x":-7.6,"y":-50,"b":-17},{"k":"fit","s":1,"x":-7.3,"y":-63,"b":-17},{"k":"fit","s":1,"x":-7.14,"y":-88,"b":-17},{"k":"fit","s":1,"x":-6.87,"y":-146,"b":-17},{"k":"fit","s":1,"x":-6.69,"y":-174,"b":-17},{"k":"fit","s":1,"x":-6.39,"y":-146,"b":-17},{"k":"fit","s":1,"x":-5.94,"y":-88,"b":-17},{"k":"fit","s":1,"x":-5.34,"y":-34,"b":-17},{"k":"fit","s":1,"x":-4.76,"y":-20,"b":-17},{"k":"fit","s":1,"x":-4.44,"y":-35,"b":-17},{"k":"fit","s":1,"x":-4.12,"y":-86,"b":-17},{"k":"fit","s":1,"x":-3.88,"y":-141,"b":-17},{"k":"fit","s":1,"x":-3.72,"y":-167,"b":-17},{"k":"fit","s":1,"x":-3.44,"y":-141,"b":-17},{"k":"fit","s":1,"x":-3.02,"y":-86,"b":-17},{"k":"fit","s":1,"x":-2.46,"y":-34,"b":-17},{"k":"fit","s":1,"x":-1.9,"y":-19,"b":-17},{"k":"fit","s":1,"x":-1.44,"y":-19,"b":-17},{"k":"fit","s":1,"x":-1.2,"y":-31,"b":-17},{"k":"fit","s":1,"x":-0.96,"y":-77,"b":-17},{"k":"fit","s":1,"x":-0.78,"y":-124,"b":-17},{"k":"fit","s":1,"x":-0.66,"y":-147,"b":-17},{"k":"fit","s":1,"x":-0.48,"y":-124,"b":-17},{"k":"fit","s":1,"x":-0.21,"y":-77,"b":-17},{"k":"fit","s":1,"x":0.15,"y":-31,"b":-17},{"k":"fit","s":1,"x":0.47,"y":-19,"b":-17},{"k":"fit","s":1,"x":0.79,"y":-30,"b":-17},{"k":"fit","s":1,"x":1.15,"y":-73,"b":-17},{"k":"fit","s":1,"x":1.42,"y":-118,"b":-17},{"k":"fit","s":1,"x":1.6,"y":-139,"b":-17},{"k":"fit","s":1,"x":1.72,"y":-118,"b":-17},{"k":"fit","s":1,"x":1.9,"y":-73,"b":-17},{"k":"fit","s":1,"x":2.14,"y":-31,"b":-17},{"k":"fit","s":1,"x":2.38,"y":-20,"b":-17},{"k":"fit","s":1,"x":2.93,"y":-19,"b":-17},{"k":"fit","s":1,"x":3.45,"y":-33,"b":-17},{"k":"fit","s":1,"x":3.97,"y":-85,"b":-17},{"k":"fit","s":1,"x":4.36,"y":-140,"b":-17},{"k":"fit","s":1,"x":4.62,"y":-166,"b":-17},{"k":"fit","s":1,"x":4.78,"y":-140,"b":-17},{"k":"fit","s":1,"x":5.02,"y":-85,"b":-17},{"k":"fit","s":1,"x":5.34,"y":-34,"b":-17},{"k":"fit","s":1,"x":5.66,"y":-20,"b":-17},{"k":"fit","s":1,"x":6.32,"y":-34,"b":-17},{"k":"fit","s":1,"x":6.92,"y":-88,"b":-17},{"k":"fit","s":1,"x":7.37,"y":-146,"b":-17},{"k":"fit","s":1,"x":7.67,"y":-174,"b":-17},{"k":"fit","s":1,"x":7.85,"y":-146,"b":-17},{"k":"fit","s":1,"x":8.12,"y":-88,"b":-17},{"k":"fit","s":1,"x":8.4,"y":-62,"b":-17},{"k":"fit","s":1,"x":8.75,"y":-50,"b":-17},{"k":"fit","s":1,"x":9.1,"y":-34,"b":-17},{"k":"fit","s":1,"x":9.47,"y":-21,"b":-17},{"k":"fit","s":1,"x":9.9,"y":-18,"b":-17},{"k":"fit","s":1,"x":12,"y":-17,"b":-17},

{"k":"S4","s":2,"x":-12,"y":-206,"b":-206},{"k":"S4","s":2,"x":-9.32,"y":-206,"b":-206},{"k":"S4","s":2,"x":-8.9,"y":-212.1,"b":-206},{"k":"S4","s":2,"x":-8.48,"y":-226.2,"b":-206},{"k":"S4","s":2,"x":-8.14,"y":-251.5,"b":-206},{"k":"S4","s":2,"x":-7.89,"y":-281.8,"b":-206},{"k":"S4","s":2,"x":-7.72,"y":-307,"b":-206},{"k":"S4","s":2,"x":-7.58,"y":-281.8,"b":-206},{"k":"S4","s":2,"x":-7.37,"y":-251.5,"b":-206},{"k":"S4","s":2,"x":-7.09,"y":-226.2,"b":-206},{"k":"S4","s":2,"x":-6.74,"y":-212.1,"b":-206},{"k":"S4","s":2,"x":-6.39,"y":-206,"b":-206},
{"k":"S4","s":2,"x":-5.69,"y":-206,"b":-206},{"k":"S4","s":2,"x":-5.34,"y":-210,"b":-206},{"k":"S4","s":2,"x":-4.99,"y":-220,"b":-206},{"k":"S4","s":2,"x":-4.71,"y":-237.5,"b":-206},{"k":"S4","s":2,"x":-4.5,"y":-264,"b":-206},{"k":"S4","s":2,"x":-4.36,"y":-291.5,"b":-206},{"k":"S4","s":2,"x":-4.22,"y":-276,"b":-206},{"k":"S4","s":2,"x":-4.1,"y":-282.6,"b":-206},{"k":"S4","s":2,"x":-3.99,"y":-299,"b":-206},{"k":"S4","s":2,"x":-3.91,"y":-320.6,"b":-206},{"k":"S4","s":2,"x":-3.82,"y":-352,"b":-206},{"k":"S4","s":2,"x":-3.73,"y":-314.5,"b":-206},{"k":"S4","s":2,"x":-3.6,"y":-271,"b":-206},{"k":"S4","s":2,"x":-3.42,"y":-234,"b":-206},{"k":"S4","s":2,"x":-3.2,"y":-214.5,"b":-206},{"k":"S4","s":2,"x":-2.98,"y":-206,"b":-206},
{"k":"S4","s":2,"x":-1.6,"y":-206,"b":-206},{"k":"S4","s":2,"x":-1.38,"y":-213.4,"b":-206},{"k":"S4","s":2,"x":-1.16,"y":-230.8,"b":-206},{"k":"S4","s":2,"x":-0.98,"y":-261.8,"b":-206},{"k":"S4","s":2,"x":-0.85,"y":-299,"b":-206},{"k":"S4","s":2,"x":-0.76,"y":-330,"b":-206},{"k":"S4","s":2,"x":-0.7,"y":-299,"b":-206},{"k":"S4","s":2,"x":-0.61,"y":-261.8,"b":-206},{"k":"S4","s":2,"x":-0.49,"y":-230.8,"b":-206},{"k":"S4","s":2,"x":-0.34,"y":-213.4,"b":-206},{"k":"S4","s":2,"x":-0.19,"y":-206,"b":-206},
{"k":"S4","s":2,"x":1.03,"y":-206,"b":-206},{"k":"S4","s":2,"x":1.19,"y":-213.3,"b":-206},{"k":"S4","s":2,"x":1.35,"y":-230.2,"b":-206},{"k":"S4","s":2,"x":1.48,"y":-260.5,"b":-206},{"k":"S4","s":2,"x":1.58,"y":-296.8,"b":-206},{"k":"S4","s":2,"x":1.64,"y":-327,"b":-206},{"k":"S4","s":2,"x":1.69,"y":-296.8,"b":-206},{"k":"S4","s":2,"x":1.77,"y":-260.5,"b":-206},{"k":"S4","s":2,"x":1.87,"y":-230.2,"b":-206},{"k":"S4","s":2,"x":2.0,"y":-213.3,"b":-206},{"k":"S4","s":2,"x":2.13,"y":-206,"b":-206},
{"k":"S4","s":2,"x":3.86,"y":-206,"b":-206},{"k":"S4","s":2,"x":4.06,"y":-214.4,"b":-206},{"k":"S4","s":2,"x":4.26,"y":-234,"b":-206},{"k":"S4","s":2,"x":4.42,"y":-269,"b":-206},{"k":"S4","s":2,"x":4.54,"y":-313.8,"b":-206},{"k":"S4","s":2,"x":4.62,"y":-351,"b":-206},{"k":"S4","s":2,"x":4.7,"y":-320,"b":-206},{"k":"S4","s":2,"x":4.82,"y":-284,"b":-206},{"k":"S4","s":2,"x":4.95,"y":-267.6,"b":-206},{"k":"S4","s":2,"x":5.08,"y":-276.7,"b":-206},{"k":"S4","s":2,"x":5.16,"y":-286.4,"b":-206},{"k":"S4","s":2,"x":5.3,"y":-262,"b":-206},{"k":"S4","s":2,"x":5.51,"y":-237.5,"b":-206},{"k":"S4","s":2,"x":5.79,"y":-220,"b":-206},{"k":"S4","s":2,"x":6.14,"y":-210.2,"b":-206},{"k":"S4","s":2,"x":6.49,"y":-206,"b":-206},
{"k":"S4","s":2,"x":7.24,"y":-206,"b":-206},{"k":"S4","s":2,"x":7.59,"y":-212.2,"b":-206},{"k":"S4","s":2,"x":7.94,"y":-226.6,"b":-206},{"k":"S4","s":2,"x":8.22,"y":-252.4,"b":-206},{"k":"S4","s":2,"x":8.43,"y":-283.3,"b":-206},{"k":"S4","s":2,"x":8.57,"y":-309,"b":-206},{"k":"S4","s":2,"x":8.75,"y":-283.3,"b":-206},{"k":"S4","s":2,"x":9.02,"y":-252.4,"b":-206},{"k":"S4","s":2,"x":9.38,"y":-226.6,"b":-206},{"k":"S4","s":2,"x":9.83,"y":-212.2,"b":-206},{"k":"S4","s":2,"x":10.28,"y":-206,"b":-206},{"k":"S4","s":2,"x":12,"y":-206,"b":-206},

{"k":"S2","s":2,"x":-12,"y":-206,"b":-206},{"k":"S2","s":2,"x":-7.13,"y":-206,"b":-206},{"k":"S2","s":2,"x":-7.0,"y":-222,"b":-206},{"k":"S2","s":2,"x":-6.86,"y":-278,"b":-206},{"k":"S2","s":2,"x":-6.76,"y":-337.2,"b":-206},{"k":"S2","s":2,"x":-6.69,"y":-366,"b":-206},{"k":"S2","s":2,"x":-6.53,"y":-337.2,"b":-206},{"k":"S2","s":2,"x":-6.29,"y":-278,"b":-206},{"k":"S2","s":2,"x":-5.97,"y":-222,"b":-206},{"k":"S2","s":2,"x":-5.65,"y":-206,"b":-206},
{"k":"S2","s":2,"x":-3.93,"y":-206,"b":-206},{"k":"S2","s":2,"x":-3.86,"y":-219.8,"b":-206},{"k":"S2","s":2,"x":-3.8,"y":-268.1,"b":-206},{"k":"S2","s":2,"x":-3.75,"y":-319.2,"b":-206},{"k":"S2","s":2,"x":-3.72,"y":-344,"b":-206},{"k":"S2","s":2,"x":-3.64,"y":-319.2,"b":-206},{"k":"S2","s":2,"x":-3.52,"y":-268.1,"b":-206},{"k":"S2","s":2,"x":-3.36,"y":-219.8,"b":-206},{"k":"S2","s":2,"x":-3.2,"y":-206,"b":-206},
{"k":"S2","s":2,"x":-0.78,"y":-206,"b":-206},{"k":"S2","s":2,"x":-0.73,"y":-216.5,"b":-206},{"k":"S2","s":2,"x":-0.68,"y":-253.3,"b":-206},{"k":"S2","s":2,"x":-0.64,"y":-292.1,"b":-206},{"k":"S2","s":2,"x":-0.62,"y":-311,"b":-206},{"k":"S2","s":2,"x":-0.57,"y":-292.1,"b":-206},{"k":"S2","s":2,"x":-0.5,"y":-253.3,"b":-206},{"k":"S2","s":2,"x":-0.4,"y":-216.5,"b":-206},{"k":"S2","s":2,"x":-0.31,"y":-206,"b":-206},
{"k":"S2","s":2,"x":1.19,"y":-206,"b":-206},{"k":"S2","s":2,"x":1.28,"y":-216.5,"b":-206},{"k":"S2","s":2,"x":1.38,"y":-253.3,"b":-206},{"k":"S2","s":2,"x":1.45,"y":-292.1,"b":-206},{"k":"S2","s":2,"x":1.5,"y":-311,"b":-206},{"k":"S2","s":2,"x":1.52,"y":-292.1,"b":-206},{"k":"S2","s":2,"x":1.56,"y":-253.3,"b":-206},{"k":"S2","s":2,"x":1.61,"y":-216.5,"b":-206},{"k":"S2","s":2,"x":1.66,"y":-206,"b":-206},
{"k":"S2","s":2,"x":4.16,"y":-206,"b":-206},{"k":"S2","s":2,"x":4.28,"y":-220,"b":-206},{"k":"S2","s":2,"x":4.4,"y":-269,"b":-206},{"k":"S2","s":2,"x":4.49,"y":-320.8,"b":-206},{"k":"S2","s":2,"x":4.55,"y":-346,"b":-206},{"k":"S2","s":2,"x":4.57,"y":-320.8,"b":-206},{"k":"S2","s":2,"x":4.61,"y":-269,"b":-206},{"k":"S2","s":2,"x":4.66,"y":-220,"b":-206},{"k":"S2","s":2,"x":4.71,"y":-206,"b":-206},
{"k":"S2","s":2,"x":6.37,"y":-206,"b":-206},{"k":"S2","s":2,"x":6.77,"y":-222,"b":-206},{"k":"S2","s":2,"x":7.17,"y":-278,"b":-206},{"k":"S2","s":2,"x":7.47,"y":-337.2,"b":-206},{"k":"S2","s":2,"x":7.67,"y":-366,"b":-206},{"k":"S2","s":2,"x":7.74,"y":-337.2,"b":-206},{"k":"S2","s":2,"x":7.84,"y":-278,"b":-206},{"k":"S2","s":2,"x":7.98,"y":-222,"b":-206},{"k":"S2","s":2,"x":8.11,"y":-206,"b":-206},{"k":"S2","s":2,"x":12,"y":-206,"b":-206},

{"k":"S5","s":2,"x":-12,"y":-206,"b":-206},{"k":"S5","s":2,"x":-8.12,"y":-206,"b":-206},{"k":"S5","s":2,"x":-7.7,"y":-212.3,"b":-206},{"k":"S5","s":2,"x":-7.35,"y":-220,"b":-206},{"k":"S5","s":2,"x":-7.0,"y":-212.3,"b":-206},{"k":"S5","s":2,"x":-6.58,"y":-206,"b":-206},{"k":"S5","s":2,"x":-6.07,"y":-206,"b":-206},{"k":"S5","s":2,"x":-5.65,"y":-209.6,"b":-206},{"k":"S5","s":2,"x":-5.3,"y":-214,"b":-206},{"k":"S5","s":2,"x":-4.95,"y":-209.6,"b":-206},{"k":"S5","s":2,"x":-4.53,"y":-206,"b":-206},{"k":"S5","s":2,"x":-3.67,"y":-206,"b":-206},{"k":"S5","s":2,"x":-3.25,"y":-211.4,"b":-206},{"k":"S5","s":2,"x":-2.9,"y":-218,"b":-206},{"k":"S5","s":2,"x":-2.55,"y":-211.4,"b":-206},{"k":"S5","s":2,"x":-2.13,"y":-206,"b":-206},{"k":"S5","s":2,"x":-0.46,"y":-206,"b":-206},{"k":"S5","s":2,"x":-0.1,"y":-212.3,"b":-206},{"k":"S5","s":2,"x":0.2,"y":-220,"b":-206},{"k":"S5","s":2,"x":0.5,"y":-212.3,"b":-206},{"k":"S5","s":2,"x":0.86,"y":-206,"b":-206},{"k":"S5","s":2,"x":1.83,"y":-206,"b":-206},{"k":"S5","s":2,"x":2.25,"y":-211.4,"b":-206},{"k":"S5","s":2,"x":2.6,"y":-218,"b":-206},{"k":"S5","s":2,"x":2.95,"y":-211.4,"b":-206},{"k":"S5","s":2,"x":3.37,"y":-206,"b":-206},{"k":"S5","s":2,"x":5.02,"y":-206,"b":-206},{"k":"S5","s":2,"x":5.5,"y":-211.4,"b":-206},{"k":"S5","s":2,"x":5.9,"y":-218,"b":-206},{"k":"S5","s":2,"x":6.3,"y":-211.4,"b":-206},{"k":"S5","s":2,"x":6.78,"y":-206,"b":-206},{"k":"S5","s":2,"x":7.43,"y":-206,"b":-206},{"k":"S5","s":2,"x":7.85,"y":-211.4,"b":-206},{"k":"S5","s":2,"x":8.2,"y":-218,"b":-206},{"k":"S5","s":2,"x":8.55,"y":-211.4,"b":-206},{"k":"S5","s":2,"x":8.97,"y":-206,"b":-206},{"k":"S5","s":2,"x":12,"y":-206,"b":-206},

{"k":"fit","s":2,"x":-12,"y":-206,"b":-206},{"k":"fit","s":2,"x":-9.8,"y":-207,"b":-206},{"k":"fit","s":2,"x":-9.32,"y":-208,"b":-206},{"k":"fit","s":2,"x":-8.9,"y":-214,"b":-206},{"k":"fit","s":2,"x":-8.48,"y":-229,"b":-206},{"k":"fit","s":2,"x":-8.14,"y":-254,"b":-206},{"k":"fit","s":2,"x":-7.89,"y":-284,"b":-206},{"k":"fit","s":2,"x":-7.72,"y":-309,"b":-206},{"k":"fit","s":2,"x":-7.55,"y":-285,"b":-206},{"k":"fit","s":2,"x":-7.4,"y":-255,"b":-206},{"k":"fit","s":2,"x":-7.25,"y":-238,"b":-206},{"k":"fit","s":2,"x":-7.1,"y":-232,"b":-206},{"k":"fit","s":2,"x":-7.0,"y":-240,"b":-206},{"k":"fit","s":2,"x":-6.9,"y":-270,"b":-206},{"k":"fit","s":2,"x":-6.8,"y":-320,"b":-206},{"k":"fit","s":2,"x":-6.69,"y":-367,"b":-206},{"k":"fit","s":2,"x":-6.53,"y":-340,"b":-206},{"k":"fit","s":2,"x":-6.29,"y":-282,"b":-206},{"k":"fit","s":2,"x":-5.97,"y":-232,"b":-206},{"k":"fit","s":2,"x":-5.65,"y":-216,"b":-206},{"k":"fit","s":2,"x":-5.3,"y":-215,"b":-206},{"k":"fit","s":2,"x":-4.99,"y":-222,"b":-206},{"k":"fit","s":2,"x":-4.71,"y":-239,"b":-206},{"k":"fit","s":2,"x":-4.5,"y":-265,"b":-206},{"k":"fit","s":2,"x":-4.36,"y":-292,"b":-206},{"k":"fit","s":2,"x":-4.22,"y":-278,"b":-206},{"k":"fit","s":2,"x":-4.1,"y":-284,"b":-206},{"k":"fit","s":2,"x":-3.99,"y":-300,"b":-206},{"k":"fit","s":2,"x":-3.91,"y":-322,"b":-206},{"k":"fit","s":2,"x":-3.82,"y":-353,"b":-206},{"k":"fit","s":2,"x":-3.72,"y":-345,"b":-206},{"k":"fit","s":2,"x":-3.6,"y":-322,"b":-206},{"k":"fit","s":2,"x":-3.45,"y":-275,"b":-206},{"k":"fit","s":2,"x":-3.25,"y":-235,"b":-206},{"k":"fit","s":2,"x":-3.0,"y":-222,"b":-206},{"k":"fit","s":2,"x":-2.7,"y":-215,"b":-206},{"k":"fit","s":2,"x":-2.3,"y":-208,"b":-206},{"k":"fit","s":2,"x":-1.8,"y":-207,"b":-206},{"k":"fit","s":2,"x":-1.6,"y":-208,"b":-206},{"k":"fit","s":2,"x":-1.38,"y":-215,"b":-206},{"k":"fit","s":2,"x":-1.16,"y":-232,"b":-206},{"k":"fit","s":2,"x":-0.98,"y":-262,"b":-206},{"k":"fit","s":2,"x":-0.85,"y":-300,"b":-206},{"k":"fit","s":2,"x":-0.76,"y":-331,"b":-206},{"k":"fit","s":2,"x":-0.66,"y":-315,"b":-206},{"k":"fit","s":2,"x":-0.55,"y":-295,"b":-206},{"k":"fit","s":2,"x":-0.42,"y":-258,"b":-206},{"k":"fit","s":2,"x":-0.25,"y":-230,"b":-206},{"k":"fit","s":2,"x":-0.05,"y":-222,"b":-206},{"k":"fit","s":2,"x":0.2,"y":-222,"b":-206},{"k":"fit","s":2,"x":0.5,"y":-214,"b":-206},{"k":"fit","s":2,"x":0.86,"y":-208,"b":-206},{"k":"fit","s":2,"x":1.03,"y":-208,"b":-206},{"k":"fit","s":2,"x":1.19,"y":-215,"b":-206},{"k":"fit","s":2,"x":1.35,"y":-232,"b":-206},{"k":"fit","s":2,"x":1.48,"y":-262,"b":-206},{"k":"fit","s":2,"x":1.58,"y":-298,"b":-206},{"k":"fit","s":2,"x":1.64,"y":-328,"b":-206},{"k":"fit","s":2,"x":1.72,"y":-298,"b":-206},{"k":"fit","s":2,"x":1.82,"y":-262,"b":-206},{"k":"fit","s":2,"x":1.95,"y":-232,"b":-206},{"k":"fit","s":2,"x":2.1,"y":-217,"b":-206},{"k":"fit","s":2,"x":2.35,"y":-214,"b":-206},{"k":"fit","s":2,"x":2.6,"y":-219,"b":-206},{"k":"fit","s":2,"x":2.95,"y":-212,"b":-206},{"k":"fit","s":2,"x":3.4,"y":-207,"b":-206},{"k":"fit","s":2,"x":3.86,"y":-207,"b":-206},{"k":"fit","s":2,"x":4.06,"y":-216,"b":-206},{"k":"fit","s":2,"x":4.26,"y":-236,"b":-206},{"k":"fit","s":2,"x":4.42,"y":-270,"b":-206},{"k":"fit","s":2,"x":4.54,"y":-315,"b":-206},{"k":"fit","s":2,"x":4.62,"y":-352,"b":-206},{"k":"fit","s":2,"x":4.7,"y":-321,"b":-206},{"k":"fit","s":2,"x":4.82,"y":-285,"b":-206},{"k":"fit","s":2,"x":4.95,"y":-268,"b":-206},{"k":"fit","s":2,"x":5.08,"y":-277,"b":-206},{"k":"fit","s":2,"x":5.16,"y":-287,"b":-206},{"k":"fit","s":2,"x":5.3,"y":-263,"b":-206},{"k":"fit","s":2,"x":5.51,"y":-239,"b":-206},{"k":"fit","s":2,"x":5.79,"y":-222,"b":-206},{"k":"fit","s":2,"x":6.14,"y":-217,"b":-206},{"k":"fit","s":2,"x":6.37,"y":-212,"b":-206},{"k":"fit","s":2,"x":6.77,"y":-226,"b":-206},{"k":"fit","s":2,"x":7.17,"y":-280,"b":-206},{"k":"fit","s":2,"x":7.47,"y":-338,"b":-206},{"k":"fit","s":2,"x":7.67,"y":-367,"b":-206},{"k":"fit","s":2,"x":7.74,"y":-340,"b":-206},{"k":"fit","s":2,"x":7.84,"y":-285,"b":-206},{"k":"fit","s":2,"x":7.95,"y":-240,"b":-206},{"k":"fit","s":2,"x":8.05,"y":-236,"b":-206},{"k":"fit","s":2,"x":8.2,"y":-252,"b":-206},{"k":"fit","s":2,"x":8.43,"y":-285,"b":-206},{"k":"fit","s":2,"x":8.57,"y":-310,"b":-206},{"k":"fit","s":2,"x":8.75,"y":-285,"b":-206},{"k":"fit","s":2,"x":9.02,"y":-254,"b":-206},{"k":"fit","s":2,"x":9.38,"y":-228,"b":-206},{"k":"fit","s":2,"x":9.83,"y":-213,"b":-206},{"k":"fit","s":2,"x":10.28,"y":-207,"b":-206},{"k":"fit","s":2,"x":12,"y":-206,"b":-206},

{"k":"S4","s":3,"x":-12,"y":-396,"b":-396},{"k":"S4","s":3,"x":-10.2,"y":-396,"b":-396},{"k":"S4","s":3,"x":-9.57,"y":-399,"b":-396},{"k":"S4","s":3,"x":-9.03,"y":-422,"b":-396},{"k":"S4","s":3,"x":-8.49,"y":-472,"b":-396},{"k":"S4","s":3,"x":-8.13,"y":-522,"b":-396},{"k":"S4","s":3,"x":-7.88,"y":-552,"b":-396},{"k":"S4","s":3,"x":-7.66,"y":-522,"b":-396},{"k":"S4","s":3,"x":-7.41,"y":-489,"b":-396},{"k":"S4","s":3,"x":-7.23,"y":-486,"b":-396},{"k":"S4","s":3,"x":-6.95,"y":-506,"b":-396},{"k":"S4","s":3,"x":-6.69,"y":-526,"b":-396},{"k":"S4","s":3,"x":-6.44,"y":-495,"b":-396},{"k":"S4","s":3,"x":-6.3,"y":-460,"b":-396},{"k":"S4","s":3,"x":-6.15,"y":-425,"b":-396},{"k":"S4","s":3,"x":-6.0,"y":-405,"b":-396},{"k":"S4","s":3,"x":-5.8,"y":-398,"b":-396},{"k":"S4","s":3,"x":-5.5,"y":-398,"b":-396},{"k":"S4","s":3,"x":-5.08,"y":-405,"b":-396},{"k":"S4","s":3,"x":-4.8,"y":-430,"b":-396},{"k":"S4","s":3,"x":-4.6,"y":-470,"b":-396},{"k":"S4","s":3,"x":-4.45,"y":-505,"b":-396},{"k":"S4","s":3,"x":-4.36,"y":-522,"b":-396},{"k":"S4","s":3,"x":-4.2,"y":-500,"b":-396},{"k":"S4","s":3,"x":-4.05,"y":-490,"b":-396},{"k":"S4","s":3,"x":-3.88,"y":-500,"b":-396},{"k":"S4","s":3,"x":-3.72,"y":-518,"b":-396},{"k":"S4","s":3,"x":-3.55,"y":-490,"b":-396},{"k":"S4","s":3,"x":-3.4,"y":-455,"b":-396},{"k":"S4","s":3,"x":-3.2,"y":-420,"b":-396},{"k":"S4","s":3,"x":-3.0,"y":-402,"b":-396},{"k":"S4","s":3,"x":-2.7,"y":-397,"b":-396},{"k":"S4","s":3,"x":-2.2,"y":-397,"b":-396},{"k":"S4","s":3,"x":-1.67,"y":-402,"b":-396},{"k":"S4","s":3,"x":-1.35,"y":-420,"b":-396},{"k":"S4","s":3,"x":-1.1,"y":-445,"b":-396},{"k":"S4","s":3,"x":-0.92,"y":-475,"b":-396},{"k":"S4","s":3,"x":-0.76,"y":-503,"b":-396},{"k":"S4","s":3,"x":-0.62,"y":-475,"b":-396},{"k":"S4","s":3,"x":-0.5,"y":-445,"b":-396},{"k":"S4","s":3,"x":-0.35,"y":-425,"b":-396},{"k":"S4","s":3,"x":-0.2,"y":-420,"b":-396},{"k":"S4","s":3,"x":-0.05,"y":-427,"b":-396},{"k":"S4","s":3,"x":0.1,"y":-418,"b":-396},{"k":"S4","s":3,"x":0.35,"y":-405,"b":-396},{"k":"S4","s":3,"x":0.7,"y":-399,"b":-396},{"k":"S4","s":3,"x":0.98,"y":-404,"b":-396},{"k":"S4","s":3,"x":1.15,"y":-420,"b":-396},{"k":"S4","s":3,"x":1.3,"y":-450,"b":-396},{"k":"S4","s":3,"x":1.45,"y":-490,"b":-396},{"k":"S4","s":3,"x":1.56,"y":-519,"b":-396},{"k":"S4","s":3,"x":1.68,"y":-490,"b":-396},{"k":"S4","s":3,"x":1.82,"y":-450,"b":-396},{"k":"S4","s":3,"x":1.98,"y":-425,"b":-396},{"k":"S4","s":3,"x":2.12,"y":-420,"b":-396},{"k":"S4","s":3,"x":2.28,"y":-427,"b":-396},{"k":"S4","s":3,"x":2.45,"y":-415,"b":-396},{"k":"S4","s":3,"x":2.7,"y":-402,"b":-396},{"k":"S4","s":3,"x":3.0,"y":-397,"b":-396},{"k":"S4","s":3,"x":3.4,"y":-397,"b":-396},{"k":"S4","s":3,"x":3.72,"y":-402,"b":-396},{"k":"S4","s":3,"x":4.0,"y":-420,"b":-396},{"k":"S4","s":3,"x":4.25,"y":-450,"b":-396},{"k":"S4","s":3,"x":4.45,"y":-485,"b":-396},{"k":"S4","s":3,"x":4.62,"y":-511,"b":-396},{"k":"S4","s":3,"x":4.78,"y":-490,"b":-396},{"k":"S4","s":3,"x":4.92,"y":-484,"b":-396},{"k":"S4","s":3,"x":5.08,"y":-500,"b":-396},{"k":"S4","s":3,"x":5.23,"y":-528,"b":-396},{"k":"S4","s":3,"x":5.4,"y":-495,"b":-396},{"k":"S4","s":3,"x":5.6,"y":-455,"b":-396},{"k":"S4","s":3,"x":5.85,"y":-425,"b":-396},{"k":"S4","s":3,"x":6.1,"y":-412,"b":-396},{"k":"S4","s":3,"x":6.3,"y":-410,"b":-396},{"k":"S4","s":3,"x":6.6,"y":-415,"b":-396},{"k":"S4","s":3,"x":6.95,"y":-430,"b":-396},{"k":"S4","s":3,"x":7.25,"y":-460,"b":-396},{"k":"S4","s":3,"x":7.5,"y":-500,"b":-396},{"k":"S4","s":3,"x":7.67,"y":-530,"b":-396},{"k":"S4","s":3,"x":7.85,"y":-505,"b":-396},{"k":"S4","s":3,"x":8.05,"y":-490,"b":-396},{"k":"S4","s":3,"x":8.2,"y":-492,"b":-396},{"k":"S4","s":3,"x":8.4,"y":-510,"b":-396},{"k":"S4","s":3,"x":8.6,"y":-540,"b":-396},{"k":"S4","s":3,"x":8.75,"y":-557,"b":-396},{"k":"S4","s":3,"x":8.9,"y":-530,"b":-396},{"k":"S4","s":3,"x":9.1,"y":-490,"b":-396},{"k":"S4","s":3,"x":9.35,"y":-455,"b":-396},{"k":"S4","s":3,"x":9.65,"y":-425,"b":-396},{"k":"S4","s":3,"x":10.0,"y":-405,"b":-396},{"k":"S4","s":3,"x":10.4,"y":-398,"b":-396},{"k":"S4","s":3,"x":12,"y":-396,"b":-396},

{"k":"S2","s":3,"x":-12,"y":-396,"b":-396},{"k":"S2","s":3,"x":-7.13,"y":-396,"b":-396},{"k":"S2","s":3,"x":-7.0,"y":-408.1,"b":-396},{"k":"S2","s":3,"x":-6.86,"y":-450.5,"b":-396},{"k":"S2","s":3,"x":-6.76,"y":-495.2,"b":-396},{"k":"S2","s":3,"x":-6.69,"y":-517,"b":-396},{"k":"S2","s":3,"x":-6.52,"y":-495.2,"b":-396},{"k":"S2","s":3,"x":-6.27,"y":-450.5,"b":-396},{"k":"S2","s":3,"x":-5.93,"y":-408.1,"b":-396},{"k":"S2","s":3,"x":-5.6,"y":-396,"b":-396},
{"k":"S2","s":3,"x":-3.93,"y":-396,"b":-396},{"k":"S2","s":3,"x":-3.86,"y":-407.5,"b":-396},{"k":"S2","s":3,"x":-3.8,"y":-447.8,"b":-396},{"k":"S2","s":3,"x":-3.75,"y":-490.3,"b":-396},{"k":"S2","s":3,"x":-3.72,"y":-511,"b":-396},{"k":"S2","s":3,"x":-3.56,"y":-490.3,"b":-396},{"k":"S2","s":3,"x":-3.32,"y":-447.8,"b":-396},{"k":"S2","s":3,"x":-3.0,"y":-407.5,"b":-396},{"k":"S2","s":3,"x":-2.68,"y":-396,"b":-396},
{"k":"S2","s":3,"x":-0.73,"y":-396,"b":-396},{"k":"S2","s":3,"x":-0.69,"y":-404,"b":-396},{"k":"S2","s":3,"x":-0.65,"y":-432,"b":-396},{"k":"S2","s":3,"x":-0.62,"y":-461.6,"b":-396},{"k":"S2","s":3,"x":-0.6,"y":-476,"b":-396},{"k":"S2","s":3,"x":-0.54,"y":-461.6,"b":-396},{"k":"S2","s":3,"x":-0.45,"y":-432,"b":-396},{"k":"S2","s":3,"x":-0.33,"y":-404,"b":-396},{"k":"S2","s":3,"x":-0.21,"y":-396,"b":-396},
{"k":"S2","s":3,"x":1.11,"y":-396,"b":-396},{"k":"S2","s":3,"x":1.23,"y":-404,"b":-396},{"k":"S2","s":3,"x":1.35,"y":-432,"b":-396},{"k":"S2","s":3,"x":1.44,"y":-461.6,"b":-396},{"k":"S2","s":3,"x":1.5,"y":-476,"b":-396},{"k":"S2","s":3,"x":1.52,"y":-461.6,"b":-396},{"k":"S2","s":3,"x":1.55,"y":-432,"b":-396},{"k":"S2","s":3,"x":1.59,"y":-404,"b":-396},{"k":"S2","s":3,"x":1.63,"y":-396,"b":-396},
{"k":"S2","s":3,"x":3.38,"y":-396,"b":-396},{"k":"S2","s":3,"x":3.74,"y":-407.5,"b":-396},{"k":"S2","s":3,"x":4.1,"y":-447.8,"b":-396},{"k":"S2","s":3,"x":4.37,"y":-490.3,"b":-396},{"k":"S2","s":3,"x":4.55,"y":-511,"b":-396},{"k":"S2","s":3,"x":4.6,"y":-490.3,"b":-396},{"k":"S2","s":3,"x":4.67,"y":-447.8,"b":-396},{"k":"S2","s":3,"x":4.77,"y":-407.5,"b":-396},{"k":"S2","s":3,"x":4.86,"y":-396,"b":-396},
{"k":"S2","s":3,"x":6.37,"y":-396,"b":-396},{"k":"S2","s":3,"x":6.77,"y":-408.6,"b":-396},{"k":"S2","s":3,"x":7.17,"y":-452.7,"b":-396},{"k":"S2","s":3,"x":7.47,"y":-499.3,"b":-396},{"k":"S2","s":3,"x":7.67,"y":-522,"b":-396},{"k":"S2","s":3,"x":7.73,"y":-499.3,"b":-396},{"k":"S2","s":3,"x":7.82,"y":-452.7,"b":-396},{"k":"S2","s":3,"x":7.94,"y":-408.6,"b":-396},{"k":"S2","s":3,"x":8.06,"y":-396,"b":-396},{"k":"S2","s":3,"x":12,"y":-396,"b":-396},

{"k":"S5","s":3,"x":-12,"y":-396,"b":-396},{"k":"S5","s":3,"x":-8.16,"y":-396,"b":-396},{"k":"S5","s":3,"x":-7.8,"y":-418.5,"b":-396},{"k":"S5","s":3,"x":-7.5,"y":-446,"b":-396},{"k":"S5","s":3,"x":-7.2,"y":-418.5,"b":-396},{"k":"S5","s":3,"x":-6.84,"y":-396,"b":-396},{"k":"S5","s":3,"x":-6.09,"y":-396,"b":-396},{"k":"S5","s":3,"x":-5.55,"y":-405,"b":-396},{"k":"S5","s":3,"x":-5.1,"y":-416,"b":-396},{"k":"S5","s":3,"x":-4.65,"y":-405,"b":-396},{"k":"S5","s":3,"x":-4.11,"y":-396,"b":-396},{"k":"S5","s":3,"x":-3.78,"y":-396,"b":-396},{"k":"S5","s":3,"x":-3.3,"y":-407.3,"b":-396},{"k":"S5","s":3,"x":-2.9,"y":-421,"b":-396},{"k":"S5","s":3,"x":-2.5,"y":-407.3,"b":-396},{"k":"S5","s":3,"x":-2.02,"y":-396,"b":-396},{"k":"S5","s":3,"x":-0.28,"y":-396,"b":-396},{"k":"S5","s":3,"x":0.2,"y":-407.3,"b":-396},{"k":"S5","s":3,"x":0.6,"y":-421,"b":-396},{"k":"S5","s":3,"x":1.0,"y":-407.3,"b":-396},{"k":"S5","s":3,"x":1.48,"y":-396,"b":-396},{"k":"S5","s":3,"x":2.12,"y":-396,"b":-396},{"k":"S5","s":3,"x":2.6,"y":-407.3,"b":-396},{"k":"S5","s":3,"x":3.0,"y":-421,"b":-396},{"k":"S5","s":3,"x":3.4,"y":-407.3,"b":-396},{"k":"S5","s":3,"x":3.88,"y":-396,"b":-396},{"k":"S5","s":3,"x":5.12,"y":-396,"b":-396},{"k":"S5","s":3,"x":5.6,"y":-416.3,"b":-396},{"k":"S5","s":3,"x":6.0,"y":-441,"b":-396},{"k":"S5","s":3,"x":6.4,"y":-416.3,"b":-396},{"k":"S5","s":3,"x":6.88,"y":-396,"b":-396},{"k":"S5","s":3,"x":7.22,"y":-396,"b":-396},{"k":"S5","s":3,"x":7.7,"y":-407.3,"b":-396},{"k":"S5","s":3,"x":8.1,"y":-421,"b":-396},{"k":"S5","s":3,"x":8.5,"y":-407.3,"b":-396},{"k":"S5","s":3,"x":8.98,"y":-396,"b":-396},{"k":"S5","s":3,"x":12,"y":-396,"b":-396},

{"k":"fit","s":3,"x":-12,"y":-396,"b":-396},{"k":"fit","s":3,"x":-10.2,"y":-397.5,"b":-396},{"k":"fit","s":3,"x":-9.57,"y":-401,"b":-396},{"k":"fit","s":3,"x":-9.03,"y":-424,"b":-396},{"k":"fit","s":3,"x":-8.49,"y":-474,"b":-396},{"k":"fit","s":3,"x":-8.13,"y":-524,"b":-396},{"k":"fit","s":3,"x":-7.88,"y":-554,"b":-396},{"k":"fit","s":3,"x":-7.66,"y":-524,"b":-396},{"k":"fit","s":3,"x":-7.41,"y":-490,"b":-396},{"k":"fit","s":3,"x":-7.23,"y":-487,"b":-396},{"k":"fit","s":3,"x":-6.95,"y":-507,"b":-396},{"k":"fit","s":3,"x":-6.69,"y":-528,"b":-396},{"k":"fit","s":3,"x":-6.44,"y":-500,"b":-396},{"k":"fit","s":3,"x":-6.2,"y":-462,"b":-396},{"k":"fit","s":3,"x":-5.93,"y":-430,"b":-396},{"k":"fit","s":3,"x":-5.6,"y":-410,"b":-396},{"k":"fit","s":3,"x":-5.3,"y":-410,"b":-396},{"k":"fit","s":3,"x":-5.08,"y":-412,"b":-396},{"k":"fit","s":3,"x":-4.8,"y":-432,"b":-396},{"k":"fit","s":3,"x":-4.6,"y":-472,"b":-396},{"k":"fit","s":3,"x":-4.45,"y":-507,"b":-396},{"k":"fit","s":3,"x":-4.36,"y":-524,"b":-396},{"k":"fit","s":3,"x":-4.2,"y":-502,"b":-396},{"k":"fit","s":3,"x":-4.05,"y":-492,"b":-396},{"k":"fit","s":3,"x":-3.88,"y":-502,"b":-396},{"k":"fit","s":3,"x":-3.72,"y":-520,"b":-396},{"k":"fit","s":3,"x":-3.56,"y":-492,"b":-396},{"k":"fit","s":3,"x":-3.32,"y":-450,"b":-396},{"k":"fit","s":3,"x":-3.0,"y":-420,"b":-396},{"k":"fit","s":3,"x":-2.7,"y":-410,"b":-396},{"k":"fit","s":3,"x":-2.3,"y":-403,"b":-396},{"k":"fit","s":3,"x":-1.9,"y":-400,"b":-396},{"k":"fit","s":3,"x":-1.67,"y":-403,"b":-396},{"k":"fit","s":3,"x":-1.35,"y":-421,"b":-396},{"k":"fit","s":3,"x":-1.1,"y":-446,"b":-396},{"k":"fit","s":3,"x":-0.92,"y":-476,"b":-396},{"k":"fit","s":3,"x":-0.76,"y":-505,"b":-396},{"k":"fit","s":3,"x":-0.6,"y":-476,"b":-396},{"k":"fit","s":3,"x":-0.45,"y":-446,"b":-396},{"k":"fit","s":3,"x":-0.3,"y":-428,"b":-396},{"k":"fit","s":3,"x":-0.2,"y":-424,"b":-396},{"k":"fit","s":3,"x":-0.05,"y":-429,"b":-396},{"k":"fit","s":3,"x":0.12,"y":-420,"b":-396},{"k":"fit","s":3,"x":0.35,"y":-410,"b":-396},{"k":"fit","s":3,"x":0.6,"y":-406,"b":-396},{"k":"fit","s":3,"x":0.8,"y":-406,"b":-396},{"k":"fit","s":3,"x":0.98,"y":-412,"b":-396},{"k":"fit","s":3,"x":1.2,"y":-428,"b":-396},{"k":"fit","s":3,"x":1.35,"y":-452,"b":-396},{"k":"fit","s":3,"x":1.45,"y":-490,"b":-396},{"k":"fit","s":3,"x":1.56,"y":-521,"b":-396},{"k":"fit","s":3,"x":1.68,"y":-492,"b":-396},{"k":"fit","s":3,"x":1.82,"y":-452,"b":-396},{"k":"fit","s":3,"x":1.98,"y":-427,"b":-396},{"k":"fit","s":3,"x":2.12,"y":-422,"b":-396},{"k":"fit","s":3,"x":2.28,"y":-429,"b":-396},{"k":"fit","s":3,"x":2.45,"y":-418,"b":-396},{"k":"fit","s":3,"x":2.7,"y":-410,"b":-396},{"k":"fit","s":3,"x":3.0,"y":-410,"b":-396},{"k":"fit","s":3,"x":3.4,"y":-408,"b":-396},{"k":"fit","s":3,"x":3.7,"y":-412,"b":-396},{"k":"fit","s":3,"x":3.92,"y":-425,"b":-396},{"k":"fit","s":3,"x":4.2,"y":-452,"b":-396},{"k":"fit","s":3,"x":4.41,"y":-490,"b":-396},{"k":"fit","s":3,"x":4.62,"y":-513,"b":-396},{"k":"fit","s":3,"x":4.78,"y":-492,"b":-396},{"k":"fit","s":3,"x":4.92,"y":-486,"b":-396},{"k":"fit","s":3,"x":5.08,"y":-502,"b":-396},{"k":"fit","s":3,"x":5.23,"y":-530,"b":-396},{"k":"fit","s":3,"x":5.4,"y":-497,"b":-396},{"k":"fit","s":3,"x":5.6,"y":-458,"b":-396},{"k":"fit","s":3,"x":5.85,"y":-440,"b":-396},{"k":"fit","s":3,"x":6.0,"y":-441,"b":-396},{"k":"fit","s":3,"x":6.37,"y":-420,"b":-396},{"k":"fit","s":3,"x":6.77,"y":-415,"b":-396},{"k":"fit","s":3,"x":6.95,"y":-432,"b":-396},{"k":"fit","s":3,"x":7.17,"y":-455,"b":-396},{"k":"fit","s":3,"x":7.47,"y":-500,"b":-396},{"k":"fit","s":3,"x":7.67,"y":-532,"b":-396},{"k":"fit","s":3,"x":7.85,"y":-507,"b":-396},{"k":"fit","s":3,"x":8.05,"y":-492,"b":-396},{"k":"fit","s":3,"x":8.2,"y":-494,"b":-396},{"k":"fit","s":3,"x":8.4,"y":-512,"b":-396},{"k":"fit","s":3,"x":8.6,"y":-542,"b":-396},{"k":"fit","s":3,"x":8.75,"y":-559,"b":-396},{"k":"fit","s":3,"x":8.9,"y":-532,"b":-396},{"k":"fit","s":3,"x":9.1,"y":-492,"b":-396},{"k":"fit","s":3,"x":9.35,"y":-457,"b":-396},{"k":"fit","s":3,"x":9.65,"y":-427,"b":-396},{"k":"fit","s":3,"x":10.0,"y":-407,"b":-396},{"k":"fit","s":3,"x":10.4,"y":-399,"b":-396},{"k":"fit","s":3,"x":12,"y":-396,"b":-396},

{"k":"pt","x":-11.9,"y":-12},{"k":"pt","x":-11.7,"y":-20},{"k":"pt","x":-11.5,"y":-14},{"k":"pt","x":-11.3,"y":-23},{"k":"pt","x":-11.1,"y":-10},{"k":"pt","x":-10.9,"y":-18},{"k":"pt","x":-10.7,"y":-24},{"k":"pt","x":-10.5,"y":-13},{"k":"pt","x":-10.3,"y":-19},{"k":"pt","x":-10.1,"y":-9},{"k":"pt","x":-9.9,"y":-22},{"k":"pt","x":-9.7,"y":-16},{"k":"pt","x":-9.5,"y":-25},{"k":"pt","x":-9.3,"y":-13},{"k":"pt","x":-9.1,"y":-20},{"k":"pt","x":-8.9,"y":-27},{"k":"pt","x":-8.7,"y":-21},{"k":"pt","x":-8.5,"y":-30},{"k":"pt","x":-8.3,"y":-36},{"k":"pt","x":-8.1,"y":-46},{"k":"pt","x":-7.95,"y":-58},{"k":"pt","x":-7.8,"y":-70},{"k":"pt","x":-7.65,"y":-86},{"k":"pt","x":-7.5,"y":-100},{"k":"pt","x":-6.69,"y":-177},{"k":"pt","x":-6.72,"y":-171},{"k":"pt","x":-5.4,"y":-40},{"k":"pt","x":-5.2,"y":-46},{"k":"pt","x":-5.0,"y":-43},{"k":"pt","x":-4.85,"y":-38},{"k":"pt","x":-3.72,"y":-179},{"k":"pt","x":-3.7,"y":-172},{"k":"pt","x":-3.75,"y":-185},{"k":"pt","x":-2.2,"y":-29},{"k":"pt","x":-1.9,"y":-35},{"k":"pt","x":-1.7,"y":-31},{"k":"pt","x":-0.66,"y":-151},{"k":"pt","x":-0.64,"y":-158},{"k":"pt","x":0.4,"y":-26},{"k":"pt","x":1.6,"y":-142},{"k":"pt","x":2.4,"y":-31},{"k":"pt","x":2.7,"y":-35},{"k":"pt","x":3.0,"y":-29},{"k":"pt","x":3.3,"y":-26},{"k":"pt","x":4.62,"y":-169},{"k":"pt","x":5.7,"y":-36},{"k":"pt","x":5.9,"y":-43},{"k":"pt","x":6.1,"y":-39},{"k":"pt","x":7.67,"y":-177},{"k":"pt","x":8.9,"y":-62},{"k":"pt","x":9.1,"y":-49},{"k":"pt","x":9.3,"y":-39},{"k":"pt","x":9.5,"y":-31},{"k":"pt","x":9.7,"y":-23},{"k":"pt","x":9.9,"y":-15},{"k":"pt","x":10.1,"y":-27},{"k":"pt","x":10.3,"y":-12},{"k":"pt","x":10.5,"y":-21},{"k":"pt","x":10.7,"y":-10},{"k":"pt","x":10.9,"y":-24},{"k":"pt","x":11.1,"y":-16},{"k":"pt","x":11.3,"y":-8},{"k":"pt","x":11.5,"y":-22},{"k":"pt","x":11.7,"y":-13},{"k":"pt","x":11.9,"y":-19},
{"k":"pt","x":-11.9,"y":-200},{"k":"pt","x":-11.7,"y":-196},{"k":"pt","x":-11.5,"y":-210},{"k":"pt","x":-11.3,"y":-203},{"k":"pt","x":-11.1,"y":-214},{"k":"pt","x":-10.9,"y":-199},{"k":"pt","x":-10.7,"y":-208},{"k":"pt","x":-10.5,"y":-215},{"k":"pt","x":-10.3,"y":-204},{"k":"pt","x":-10.1,"y":-212},{"k":"pt","x":-9.9,"y":-219},{"k":"pt","x":-9.7,"y":-210},{"k":"pt","x":-9.5,"y":-222},{"k":"pt","x":9.9,"y":-215},{"k":"pt","x":10.2,"y":-208},{"k":"pt","x":10.5,"y":-200},{"k":"pt","x":10.8,"y":-212},{"k":"pt","x":11.1,"y":-204},{"k":"pt","x":11.4,"y":-198},{"k":"pt","x":11.7,"y":-209},{"k":"pt","x":11.9,"y":-195},{"k":"pt","x":-8.3,"y":-258},{"k":"pt","x":-8.1,"y":-280},{"k":"pt","x":-7.95,"y":-300},{"k":"pt","x":-4.42,"y":-296},{"k":"pt","x":-4.3,"y":-291},{"k":"pt","x":-6.69,"y":-371},{"k":"pt","x":-3.82,"y":-357},{"k":"pt","x":-3.8,"y":-363},{"k":"pt","x":-0.76,"y":-336},{"k":"pt","x":-0.78,"y":-346},{"k":"pt","x":1.64,"y":-331},{"k":"pt","x":4.62,"y":-356},{"k":"pt","x":5.1,"y":-293},{"k":"pt","x":7.67,"y":-371},{"k":"pt","x":8.57,"y":-314},{"k":"pt","x":0.1,"y":-223},{"k":"pt","x":0.3,"y":-227},{"k":"pt","x":0.5,"y":-221},{"k":"pt","x":0.7,"y":-217},{"k":"pt","x":2.3,"y":-223},{"k":"pt","x":2.6,"y":-219},{"k":"pt","x":5.9,"y":-223},{"k":"pt","x":6.2,"y":-219},{"k":"pt","x":-5.3,"y":-221},{"k":"pt","x":-5.0,"y":-226},{"k":"pt","x":-2.8,"y":-223},{"k":"pt","x":-2.5,"y":-220},{"k":"pt","x":9.3,"y":-245},{"k":"pt","x":9.6,"y":-228},
{"k":"pt","x":-11.9,"y":-388},{"k":"pt","x":-11.7,"y":-384},{"k":"pt","x":-11.5,"y":-394},{"k":"pt","x":-11.3,"y":-398},{"k":"pt","x":-11.1,"y":-390},{"k":"pt","x":-10.9,"y":-402},{"k":"pt","x":-10.7,"y":-395},{"k":"pt","x":-10.5,"y":-405},{"k":"pt","x":-10.3,"y":-398},{"k":"pt","x":-10.1,"y":-410},{"k":"pt","x":-9.9,"y":-404},{"k":"pt","x":-9.2,"y":-432},{"k":"pt","x":-9.0,"y":-446},{"k":"pt","x":-8.8,"y":-470},{"k":"pt","x":-8.6,"y":-500},{"k":"pt","x":-5.5,"y":-420},{"k":"pt","x":-5.3,"y":-432},{"k":"pt","x":-5.1,"y":-445},{"k":"pt","x":-4.95,"y":-452},{"k":"pt","x":-2.8,"y":-420},{"k":"pt","x":-2.5,"y":-428},{"k":"pt","x":-2.3,"y":-418},{"k":"pt","x":0.3,"y":-425},{"k":"pt","x":0.6,"y":-420},{"k":"pt","x":0.9,"y":-415},{"k":"pt","x":2.8,"y":-425},{"k":"pt","x":3.1,"y":-440},{"k":"pt","x":3.4,"y":-455},{"k":"pt","x":3.7,"y":-458},{"k":"pt","x":6.2,"y":-446},{"k":"pt","x":6.5,"y":-456},{"k":"pt","x":6.8,"y":-460},{"k":"pt","x":10.0,"y":-414},{"k":"pt","x":10.3,"y":-406},{"k":"pt","x":10.6,"y":-392},{"k":"pt","x":10.9,"y":-400},{"k":"pt","x":11.2,"y":-386},{"k":"pt","x":11.5,"y":-396},{"k":"pt","x":11.8,"y":-390},{"k":"pt","x":12.0,"y":-399},{"k":"pt","x":-7.88,"y":-557},{"k":"pt","x":-6.69,"y":-531},{"k":"pt","x":-4.36,"y":-527},{"k":"pt","x":-3.72,"y":-523},{"k":"pt","x":-0.76,"y":-509},{"k":"pt","x":1.56,"y":-524},{"k":"pt","x":4.62,"y":-516},{"k":"pt","x":5.23,"y":-533},{"k":"pt","x":8.75,"y":-563},{"k":"pt","x":7.67,"y":-535},{"k":"pt","x":9.3,"y":-470},{"k":"pt","x":9.5,"y":-450},

{"k":"labL","x":-12.45,"y":-134,"t":"initial"},{"k":"labL","x":-12.45,"y":-157,"t":"(5 K)"},
{"k":"labC","x":-10.65,"y":-320,"t":"anox"},{"k":"labC","x":-10.65,"y":-361,"t":"(5 K)"},{"k":"labS","x":-10.65,"y":-340,"t":"III"},
{"k":"labC","x":-10.75,"y":-517,"t":"ox"},{"k":"labC","x":-10.65,"y":-559,"t":"(5 K)"},{"k":"labS","x":-10.75,"y":-538,"t":"III"}
],
"leg":[
{"c":1,"r":1,"id":"S1","t":"S1 (Fh)","sw":"p"},
{"c":1,"r":2,"id":"S2","t":"S2 (Lp)","sw":"p"},
{"c":2,"r":1,"id":"S3","t":"S3ᵢ (nano-Gt)","sw":"p"},
{"c":2,"r":2,"id":"H","t":"S1+3 (Fh + Gt)","sw":"h"},
{"c":3,"r":1,"id":"S4","t":"S4 (Mt)","sw":"p"},
{"c":3,"r":2,"id":"S5","t":"S5 (Mt)","sw":"p"},
{"c":4,"r":1,"id":"data","t":"data","sw":"d"},
{"c":4,"r":2,"id":"fit","t":"fit","sw":"f"}
]
},
"spacing":12,
"vconcat":[
{"hconcat":[
{
"width":241,"height":573,
"title":{"text":"A\u2003\u2002ᴺᴬFe-Ferrihydrite","anchor":"start","frame":"group","fontSize":17,"fontWeight":"bold","offset":8,"dx":5,"font":"Liberation Sans"},
"data":{"name":"A"},
"encoding":{
"x":{"field":"x","type":"quantitative","scale":{"domain":[-13,13],"nice":false,"zero":false},
"axis":{"title":"Velocity [mm s⁻¹]","values":[-12,-11,-10,-9,-8,-7,-6,-5,-4,-3,-2,-1,0,1,2,3,4,5,6,7,8,9,10,11,12],"labelExpr":"datum.value % 5 === 0 ? '' + datum.value : ''","labelOverlap":false,"tickSize":{"condition":{"test":"datum.value % 5 === 0","value":5},"value":2.5},"tickColor":"black","domain":false,"grid":false,"labelFontSize":18,"labelColor":"black","labelPadding":4,"labelFont":"Liberation Sans","titleFont":"Liberation Sans","titleFontSize":17,"titleFontWeight":"normal","titleColor":"black","titlePadding":8}},
"y":{"field":"y","type":"quantitative","scale":{"domain":[-573,0],"nice":false,"zero":false},
"axis":{"title":"Relative absorption [-]","labels":false,"ticks":false,"domain":false,"grid":false,"titleFont":"Liberation Sans","titleFontSize":18,"titleFontWeight":"normal","titleColor":"black","titlePadding":16,"titleY":273}}
},
"layer":[
{"transform":[{"filter":"datum.k=='pt'"}],"mark":{"type":"point","filled":true,"size":8,"color":"#8a8a8a","opacity":1}},
{"transform":[{"filter":"datum.k=='fit'"}],"mark":{"type":"area","fill":"white","opacity":1,"interpolate":"monotone"},"encoding":{"y2":{"field":"b"},"detail":{"field":"s"}}},
{"transform":[{"filter":"datum.k=='S1'"}],"mark":{"type":"area","fill":"#850c0c","opacity":1,"interpolate":"monotone","line":{"color":"black","strokeWidth":1.2}},"encoding":{"y2":{"field":"b"},"detail":{"field":"s"}}},
{"transform":[{"filter":"datum.k=='S4'"}],"mark":{"type":"area","fill":"black","opacity":1,"interpolate":"monotone"},"encoding":{"y2":{"field":"b"},"detail":{"field":"s"}}},
{"transform":[{"filter":"datum.k=='H'"}],"mark":{"type":"area","orient":"horizontal","opacity":1,"interpolate":"monotone","fill":{"gradient":"linear","x1":0,"y1":0,"x2":0.25,"y2":1,"stops":[{"offset":0,"color":"#f2b400"},{"offset":0.08,"color":"#f2b400"},{"offset":0.08,"color":"#a8141c"},{"offset":0.125,"color":"#a8141c"},{"offset":0.125,"color":"#f2b400"},{"offset":0.205,"color":"#f2b400"},{"offset":0.205,"color":"#a8141c"},{"offset":0.25,"color":"#a8141c"},{"offset":0.25,"color":"#f2b400"},{"offset":0.33,"color":"#f2b400"},{"offset":0.33,"color":"#a8141c"},{"offset":0.375,"color":"#a8141c"},{"offset":0.375,"color":"#f2b400"},{"offset":0.455,"color":"#f2b400"},{"offset":0.455,"color":"#a8141c"},{"offset":0.5,"color":"#a8141c"},{"offset":0.5,"color":"#f2b400"},{"offset":0.58,"color":"#f2b400"},{"offset":0.58,"color":"#a8141c"},{"offset":0.625,"color":"#a8141c"},{"offset":0.625,"color":"#f2b400"},{"offset":0.705,"color":"#f2b400"},{"offset":0.705,"color":"#a8141c"},{"offset":0.75,"color":"#a8141c"},{"offset":0.75,"color":"#f2b400"},{"offset":0.83,"color":"#f2b400"},{"offset":0.83,"color":"#a8141c"},{"offset":0.875,"color":"#a8141c"},{"offset":0.875,"color":"#f2b400"},{"offset":0.955,"color":"#f2b400"},{"offset":0.955,"color":"#a8141c"},{"offset":1,"color":"#a8141c"}]}},"encoding":{"x2":{"field":"x2"},"detail":{"field":"s"}}},
{"transform":[{"filter":"datum.k=='S5'"}],"mark":{"type":"area","fill":"#c8c8c8","opacity":1,"interpolate":"monotone","line":{"color":"#444","strokeWidth":0.6}},"encoding":{"y2":{"field":"b"},"detail":{"field":"s"}}},
{"transform":[{"filter":"datum.k=='fit'"}],"mark":{"type":"line","color":"black","strokeWidth":1.3,"interpolate":"monotone"},"encoding":{"detail":{"field":"s"}}},
{"transform":[{"filter":"datum.k=='labL'"}],"mark":{"type":"text","align":"left","baseline":"middle","fontSize":16,"font":"Liberation Sans","color":"black"},"encoding":{"text":{"field":"t"}}},
{"transform":[{"filter":"datum.k=='labC'"}],"mark":{"type":"text","align":"center","baseline":"middle","fontSize":16,"font":"Liberation Sans","color":"black"},"encoding":{"text":{"field":"t"}}},
{"transform":[{"filter":"datum.k=='labS'"}],"mark":{"type":"text","align":"center","baseline":"middle","fontSize":17,"font":"Liberation Serif","color":"#222"},"encoding":{"text":{"field":"t"}}}
]
},
{
"width":241,"height":573,
"title":{"text":"B\u2003\u2009ᴺᴬFe-Lepidocrocite","anchor":"start","frame":"group","fontSize":17,"fontWeight":"bold","offset":8,"dx":7,"font":"Liberation Sans"},
"data":{"name":"B"},
"encoding":{
"x":{"field":"x","type":"quantitative","scale":{"domain":[-13,13],"nice":false,"zero":false},
"axis":{"title":"Velocity [mm s⁻¹]","values":[-12,-11,-10,-9,-8,-7,-6,-5,-4,-3,-2,-1,0,1,2,3,4,5,6,7,8,9,10,11,12],"labelExpr":"datum.value % 5 === 0 ? '' + datum.value : ''","labelOverlap":false,"tickSize":{"condition":{"test":"datum.value % 5 === 0","value":5},"value":2.5},"tickColor":"black","domain":false,"grid":false,"labelFontSize":18,"labelColor":"black","labelPadding":4,"labelFont":"Liberation Sans","titleFont":"Liberation Sans","titleFontSize":17,"titleFontWeight":"normal","titleColor":"black","titlePadding":8}},
"y":{"field":"y","type":"quantitative","scale":{"domain":[-573,0],"nice":false,"zero":false},"axis":null}
},
"layer":[
{"transform":[{"filter":"datum.k=='pt'"}],"mark":{"type":"point","filled":true,"size":8,"color":"#8a8a8a","opacity":1}},
{"transform":[{"filter":"datum.k=='fit'"}],"mark":{"type":"area","fill":"white","opacity":1,"interpolate":"monotone"},"encoding":{"y2":{"field":"b"},"detail":{"field":"s"}}},
{"transform":[{"filter":"datum.k=='S4'"}],"mark":{"type":"area","fill":"black","opacity":1,"interpolate":"monotone"},"encoding":{"y2":{"field":"b"},"detail":{"field":"s"}}},
{"transform":[{"filter":"datum.k=='S2'"}],"mark":{"type":"area","fill":"#de7b2e","opacity":1,"interpolate":"monotone","line":{"color":"black","strokeWidth":1}},"encoding":{"y2":{"field":"b"},"detail":{"field":"s"}}},
{"transform":[{"filter":"datum.k=='S3'"}],"mark":{"type":"area","fill":"#e3ae15","opacity":1,"interpolate":"linear","line":{"color":"#333","strokeWidth":0.7}},"encoding":{"y2":{"field":"b"},"detail":{"field":"s"}}},
{"transform":[{"filter":"datum.k=='S5'"}],"mark":{"type":"area","fill":"#c8c8c8","opacity":1,"interpolate":"monotone","line":{"color":"#444","strokeWidth":0.6}},"encoding":{"y2":{"field":"b"},"detail":{"field":"s"}}},
{"transform":[{"filter":"datum.k=='fit'"}],"mark":{"type":"line","color":"black","strokeWidth":1.3,"interpolate":"monotone"},"encoding":{"detail":{"field":"s"}}},
{"transform":[{"filter":"datum.k=='labL'"}],"mark":{"type":"text","align":"left","baseline":"middle","fontSize":16,"font":"Liberation Sans","color":"black"},"encoding":{"text":{"field":"t"}}},
{"transform":[{"filter":"datum.k=='labC'"}],"mark":{"type":"text","align":"center","baseline":"middle","fontSize":16,"font":"Liberation Sans","color":"black"},"encoding":{"text":{"field":"t"}}},
{"transform":[{"filter":"datum.k=='labS'"}],"mark":{"type":"text","align":"center","baseline":"middle","fontSize":17,"font":"Liberation Serif","color":"#222"},"encoding":{"text":{"field":"t"}}}
]
}
],"spacing":44},
{
"width":520,"height":46,
"view":{"stroke":null},
"data":{"name":"leg"},
"encoding":{
"x":{"field":"c","type":"quantitative","scale":{"domain":[1,2,3,4],"range":[13.8,149.8,329.1,466],"nice":false,"zero":false},"axis":null},
"y":{"field":"r","type":"quantitative","scale":{"domain":[1,2],"range":[19,42.5],"nice":false,"zero":false},"axis":null}
},
"layer":[
{"transform":[{"filter":"datum.sw=='p'"}],"mark":{"type":"point","shape":"M-1,-0.497L1,-0.497L1,0.497L-1,0.497Z","size":1521,"filled":true,"stroke":"#555","strokeWidth":0.6,"opacity":1},"encoding":{"fill":{"field":"id","type":"nominal","scale":{"domain":["S1","S2","S3","S4","S5"],"range":["#850c0c","#de7b2e","#e3ae15","#000000","#c8c8c8"]},"legend":null}}},
{"transform":[{"filter":"datum.sw=='h'"}],"mark":{"type":"point","shape":"M-1,-0.497L1,-0.497L1,0.497L-1,0.497Z","size":1521,"filled":true,"stroke":"#555","strokeWidth":0.6,"opacity":1,"fill":{"gradient":"linear","x1":0,"y1":1,"x2":1.2,"y2":0.4,"stops":[{"offset":0,"color":"#f2b400"},{"offset":0.1,"color":"#f2b400"},{"offset":0.1,"color":"#a8141c"},{"offset":0.2,"color":"#a8141c"},{"offset":0.2,"color":"#f2b400"},{"offset":0.3,"color":"#f2b400"},{"offset":0.3,"color":"#a8141c"},{"offset":0.4,"color":"#a8141c"},{"offset":0.4,"color":"#f2b400"},{"offset":0.5,"color":"#f2b400"},{"offset":0.5,"color":"#a8141c"},{"offset":0.6,"color":"#a8141c"},{"offset":0.6,"color":"#f2b400"},{"offset":0.7,"color":"#f2b400"},{"offset":0.7,"color":"#a8141c"},{"offset":0.8,"color":"#a8141c"},{"offset":0.8,"color":"#f2b400"},{"offset":0.9,"color":"#f2b400"},{"offset":0.9,"color":"#a8141c"},{"offset":1,"color":"#a8141c"}]}}},
{"transform":[{"filter":"datum.sw=='d'"}],"mark":{"type":"point","filled":true,"size":10,"color":"#8a8a8a","opacity":1}},
{"transform":[{"filter":"datum.sw=='f'"}],"mark":{"type":"point","shape":"M-1,0L1,0","size":1521,"filled":false,"stroke":"black","strokeWidth":1.6,"opacity":1}},
{"mark":{"type":"text","align":"left","baseline":"middle","dx":25,"fontSize":17,"font":"Liberation Sans","color":"black"},"encoding":{"text":{"field":"t"}}}
]
}
]
}
